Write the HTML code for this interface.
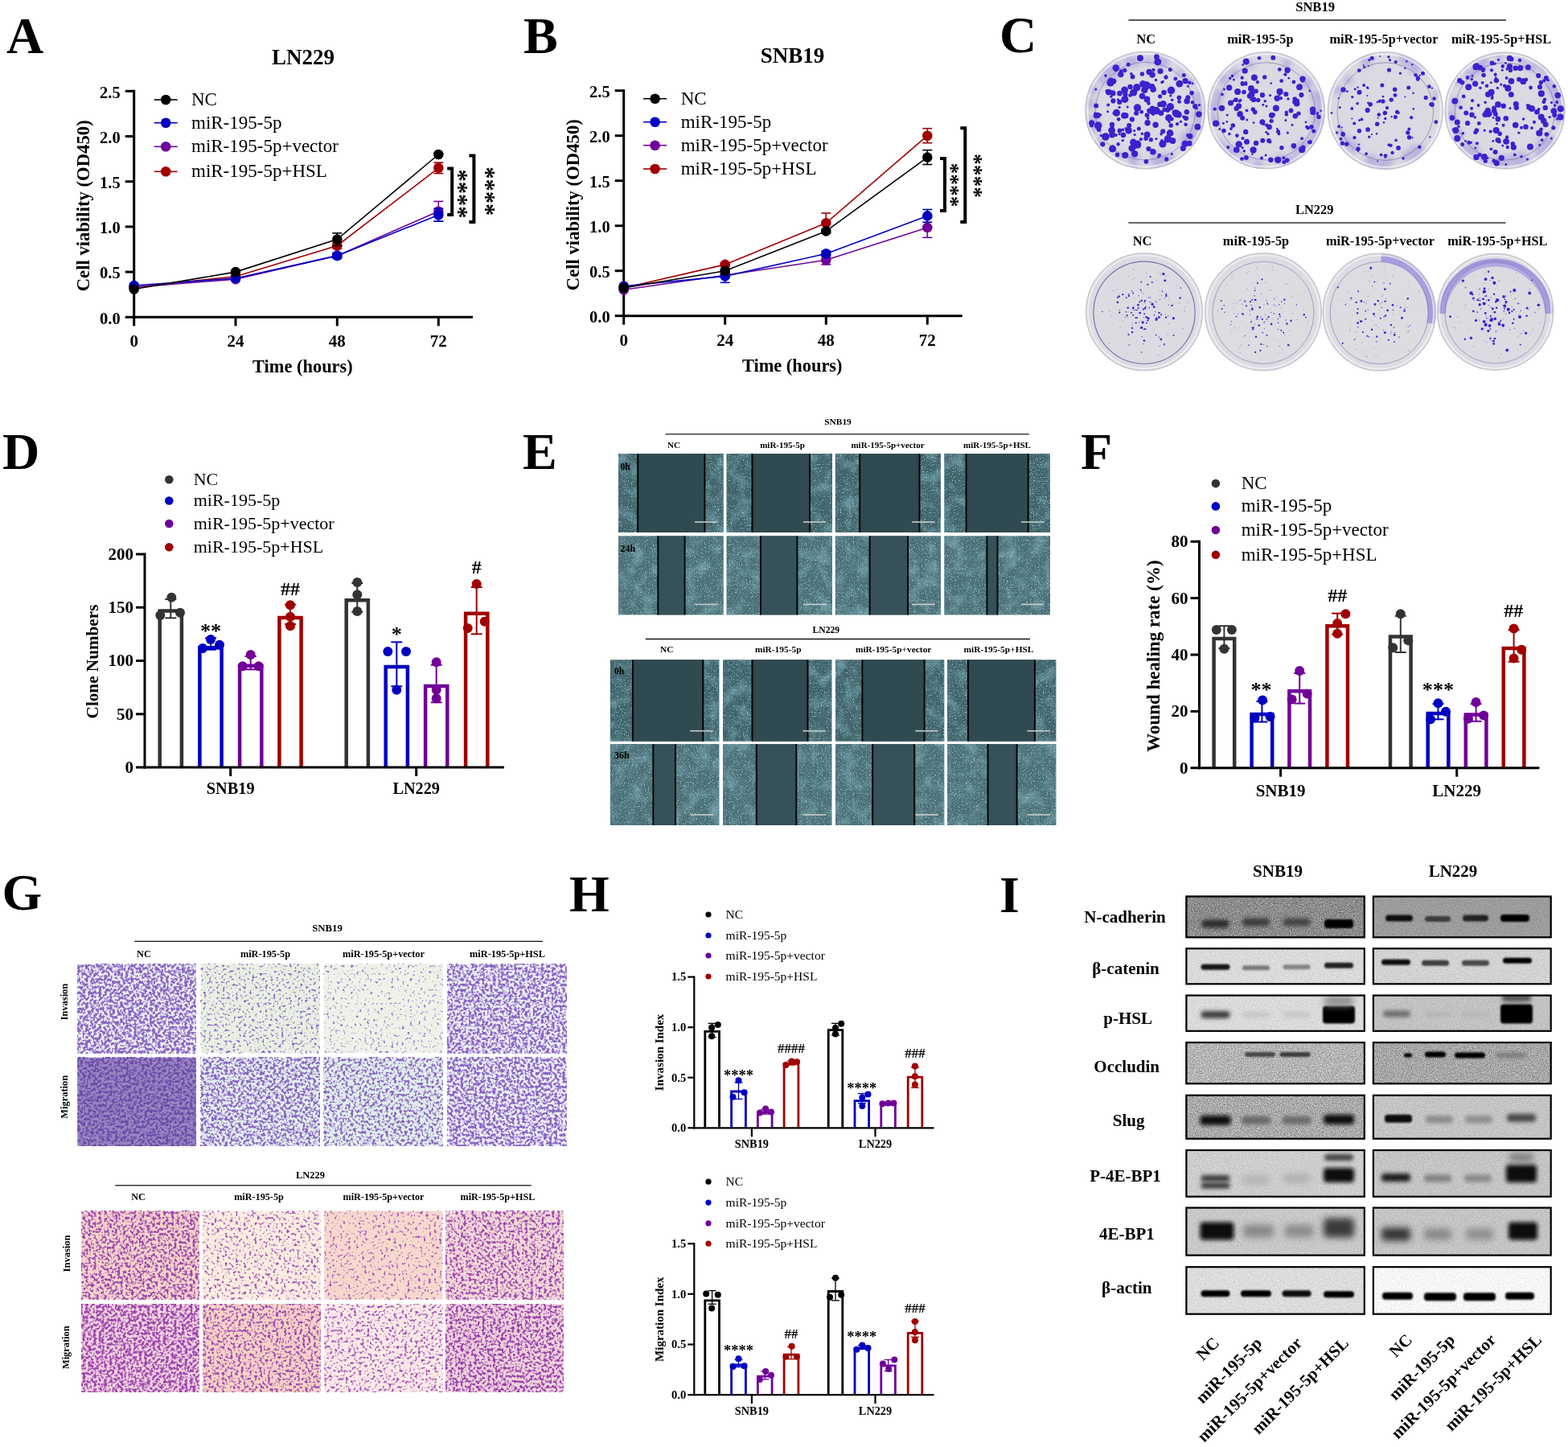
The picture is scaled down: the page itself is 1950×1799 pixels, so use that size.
<!DOCTYPE html>
<html><head><meta charset="utf-8"><title>Figure</title>
<style>html,body{margin:0;padding:0;background:#fff;overflow:hidden}svg{display:block}</style>
</head><body>
<svg width="1950" height="1799" viewBox="0 0 1950 1799" font-family="Liberation Serif, serif">
<defs><filter id="fblur1" x="-10%" y="-10%" width="120%" height="120%"><feGaussianBlur stdDeviation="0.5"/></filter>
<filter id="fblur3" x="-20%" y="-20%" width="140%" height="140%"><feGaussianBlur stdDeviation="3"/></filter>
<clipPath id="dc11"><ellipse cx="1424.3" cy="137.1" rx="75" ry="73.3"/></clipPath>
<clipPath id="dc12"><ellipse cx="1574.7" cy="137.3" rx="73.2" ry="73"/></clipPath>
<clipPath id="dc13"><ellipse cx="1722.8" cy="137.6" rx="72" ry="73.3"/></clipPath>
<clipPath id="dc14"><ellipse cx="1871.5" cy="137.5" rx="75" ry="73"/></clipPath>
<clipPath id="dc21"><ellipse cx="1423" cy="387.7" rx="73" ry="73.5"/></clipPath>
<clipPath id="dc22"><ellipse cx="1571" cy="387.7" rx="73" ry="73.5"/></clipPath>
<clipPath id="dc23"><ellipse cx="1715.3" cy="388" rx="70.7" ry="73.5"/></clipPath>
<clipPath id="dc24"><ellipse cx="1859.7" cy="387.7" rx="72.7" ry="73"/></clipPath>
<filter id="fE" x="0" y="0" width="100%" height="100%" color-interpolation-filters="sRGB">
<feTurbulence type="fractalNoise" baseFrequency="0.06" numOctaves="2" seed="5" result="lo"/>
<feColorMatrix in="lo" type="matrix" values="0 0 0 0 0.55  0 0 0 0 0.75  0 0 0 0 0.8  1.3 0 0 0 -0.58" result="los"/>
<feTurbulence type="fractalNoise" baseFrequency="0.75" numOctaves="2" seed="11" result="hi"/>
<feColorMatrix in="hi" type="matrix" values="0 0 0 0 0.66  0 0 0 0 0.84  0 0 0 0 0.86  4.2 0 0 0 -2.45" result="his"/>
<feMerge><feMergeNode in="SourceGraphic"/><feMergeNode in="los"/><feMergeNode in="his"/></feMerge>
</filter>
<filter id="fE2" x="0" y="0" width="100%" height="100%" color-interpolation-filters="sRGB">
<feTurbulence type="fractalNoise" baseFrequency="0.06" numOctaves="2" seed="9" result="lo"/>
<feColorMatrix in="lo" type="matrix" values="0 0 0 0 0.55  0 0 0 0 0.75  0 0 0 0 0.8  1.3 0 0 0 -0.58" result="los"/>
<feTurbulence type="fractalNoise" baseFrequency="0.8" numOctaves="2" seed="13" result="hi"/>
<feColorMatrix in="hi" type="matrix" values="0 0 0 0 0.66  0 0 0 0 0.84  0 0 0 0 0.86  4 0 0 0 -2.25" result="his"/>
<feMerge><feMergeNode in="SourceGraphic"/><feMergeNode in="los"/><feMergeNode in="his"/></feMerge>
</filter>
<filter id="fG1" x="0" y="0" width="100%" height="100%" color-interpolation-filters="sRGB"><feTurbulence type="fractalNoise" baseFrequency="0.3" numOctaves="2" seed="10" result="n"/><feColorMatrix in="n" type="matrix" values="0 0 0 0 0.533 0 0 0 0 0.392 0 0 0 0 0.769 6 0 0 0 -2.5" result="s"/><feComposite in="s" in2="SourceGraphic" operator="over"/></filter>
<filter id="fG2" x="0" y="0" width="100%" height="100%" color-interpolation-filters="sRGB"><feTurbulence type="fractalNoise" baseFrequency="0.3" numOctaves="2" seed="20" result="n"/><feColorMatrix in="n" type="matrix" values="0 0 0 0 0.424 0 0 0 0 0.298 0 0 0 0 0.659 6 0 0 0 -2.6" result="s"/><feComposite in="s" in2="SourceGraphic" operator="over"/></filter>
<filter id="fG3" x="0" y="0" width="100%" height="100%" color-interpolation-filters="sRGB"><feTurbulence type="fractalNoise" baseFrequency="0.3" numOctaves="2" seed="11" result="n"/><feColorMatrix in="n" type="matrix" values="0 0 0 0 0.541 0 0 0 0 0.400 0 0 0 0 0.784 6 0 0 0 -3.4" result="s"/><feComposite in="s" in2="SourceGraphic" operator="over"/></filter>
<filter id="fG4" x="0" y="0" width="100%" height="100%" color-interpolation-filters="sRGB"><feTurbulence type="fractalNoise" baseFrequency="0.3" numOctaves="2" seed="21" result="n"/><feColorMatrix in="n" type="matrix" values="0 0 0 0 0.533 0 0 0 0 0.392 0 0 0 0 0.769 6 0 0 0 -2.7" result="s"/><feComposite in="s" in2="SourceGraphic" operator="over"/></filter>
<filter id="fG5" x="0" y="0" width="100%" height="100%" color-interpolation-filters="sRGB"><feTurbulence type="fractalNoise" baseFrequency="0.3" numOctaves="2" seed="12" result="n"/><feColorMatrix in="n" type="matrix" values="0 0 0 0 0.549 0 0 0 0 0.416 0 0 0 0 0.784 6 0 0 0 -3.7" result="s"/><feComposite in="s" in2="SourceGraphic" operator="over"/></filter>
<filter id="fG6" x="0" y="0" width="100%" height="100%" color-interpolation-filters="sRGB"><feTurbulence type="fractalNoise" baseFrequency="0.3" numOctaves="2" seed="22" result="n"/><feColorMatrix in="n" type="matrix" values="0 0 0 0 0.533 0 0 0 0 0.392 0 0 0 0 0.769 6 0 0 0 -2.9" result="s"/><feComposite in="s" in2="SourceGraphic" operator="over"/></filter>
<filter id="fG7" x="0" y="0" width="100%" height="100%" color-interpolation-filters="sRGB"><feTurbulence type="fractalNoise" baseFrequency="0.3" numOctaves="2" seed="13" result="n"/><feColorMatrix in="n" type="matrix" values="0 0 0 0 0.533 0 0 0 0 0.392 0 0 0 0 0.769 6 0 0 0 -2.6" result="s"/><feComposite in="s" in2="SourceGraphic" operator="over"/></filter>
<filter id="fG8" x="0" y="0" width="100%" height="100%" color-interpolation-filters="sRGB"><feTurbulence type="fractalNoise" baseFrequency="0.3" numOctaves="2" seed="23" result="n"/><feColorMatrix in="n" type="matrix" values="0 0 0 0 0.533 0 0 0 0 0.392 0 0 0 0 0.769 6 0 0 0 -2.6" result="s"/><feComposite in="s" in2="SourceGraphic" operator="over"/></filter>
<filter id="fG9" x="0" y="0" width="100%" height="100%" color-interpolation-filters="sRGB"><feTurbulence type="fractalNoise" baseFrequency="0.3" numOctaves="2" seed="30" result="n"/><feColorMatrix in="n" type="matrix" values="0 0 0 0 0.627 0 0 0 0 0.267 0 0 0 0 0.706 6 0 0 0 -2.8" result="s"/><feComposite in="s" in2="SourceGraphic" operator="over"/></filter>
<filter id="fG10" x="0" y="0" width="100%" height="100%" color-interpolation-filters="sRGB"><feTurbulence type="fractalNoise" baseFrequency="0.3" numOctaves="2" seed="40" result="n"/><feColorMatrix in="n" type="matrix" values="0 0 0 0 0.627 0 0 0 0 0.267 0 0 0 0 0.706 6 0 0 0 -2.6" result="s"/><feComposite in="s" in2="SourceGraphic" operator="over"/></filter>
<filter id="fG11" x="0" y="0" width="100%" height="100%" color-interpolation-filters="sRGB"><feTurbulence type="fractalNoise" baseFrequency="0.3" numOctaves="2" seed="31" result="n"/><feColorMatrix in="n" type="matrix" values="0 0 0 0 0.659 0 0 0 0 0.298 0 0 0 0 0.737 6 0 0 0 -3.3" result="s"/><feComposite in="s" in2="SourceGraphic" operator="over"/></filter>
<filter id="fG12" x="0" y="0" width="100%" height="100%" color-interpolation-filters="sRGB"><feTurbulence type="fractalNoise" baseFrequency="0.3" numOctaves="2" seed="41" result="n"/><feColorMatrix in="n" type="matrix" values="0 0 0 0 0.643 0 0 0 0 0.282 0 0 0 0 0.722 6 0 0 0 -3" result="s"/><feComposite in="s" in2="SourceGraphic" operator="over"/></filter>
<filter id="fG13" x="0" y="0" width="100%" height="100%" color-interpolation-filters="sRGB"><feTurbulence type="fractalNoise" baseFrequency="0.3" numOctaves="2" seed="32" result="n"/><feColorMatrix in="n" type="matrix" values="0 0 0 0 0.659 0 0 0 0 0.298 0 0 0 0 0.737 6 0 0 0 -3.5" result="s"/><feComposite in="s" in2="SourceGraphic" operator="over"/></filter>
<filter id="fG14" x="0" y="0" width="100%" height="100%" color-interpolation-filters="sRGB"><feTurbulence type="fractalNoise" baseFrequency="0.3" numOctaves="2" seed="42" result="n"/><feColorMatrix in="n" type="matrix" values="0 0 0 0 0.659 0 0 0 0 0.298 0 0 0 0 0.737 6 0 0 0 -3.2" result="s"/><feComposite in="s" in2="SourceGraphic" operator="over"/></filter>
<filter id="fG15" x="0" y="0" width="100%" height="100%" color-interpolation-filters="sRGB"><feTurbulence type="fractalNoise" baseFrequency="0.3" numOctaves="2" seed="33" result="n"/><feColorMatrix in="n" type="matrix" values="0 0 0 0 0.627 0 0 0 0 0.267 0 0 0 0 0.706 6 0 0 0 -2.9" result="s"/><feComposite in="s" in2="SourceGraphic" operator="over"/></filter>
<filter id="fG16" x="0" y="0" width="100%" height="100%" color-interpolation-filters="sRGB"><feTurbulence type="fractalNoise" baseFrequency="0.3" numOctaves="2" seed="43" result="n"/><feColorMatrix in="n" type="matrix" values="0 0 0 0 0.612 0 0 0 0 0.251 0 0 0 0 0.690 6 0 0 0 -2.8" result="s"/><feComposite in="s" in2="SourceGraphic" operator="over"/></filter>
<filter id="grHi" x="0" y="0" width="100%" height="100%" color-interpolation-filters="sRGB">
<feTurbulence type="fractalNoise" baseFrequency="0.9" numOctaves="2" seed="4" result="n"/>
<feColorMatrix in="n" type="matrix" values="1 0 0 0 0  1 0 0 0 0  1 0 0 0 0  0 0 0 0 1" result="g"/>
<feComposite in="g" in2="SourceGraphic" operator="arithmetic" k1="0" k2="0.7" k3="1" k4="-0.35"/>
</filter>
<filter id="grLo" x="0" y="0" width="100%" height="100%" color-interpolation-filters="sRGB">
<feTurbulence type="fractalNoise" baseFrequency="0.7" numOctaves="2" seed="8" result="n"/>
<feColorMatrix in="n" type="matrix" values="1 0 0 0 0  1 0 0 0 0  1 0 0 0 0  0 0 0 0 1" result="g"/>
<feComposite in="g" in2="SourceGraphic" operator="arithmetic" k1="0" k2="0.25" k3="1" k4="-0.125"/>
</filter>
<filter id="bb1" x="-50%" y="-100%" width="200%" height="300%"><feGaussianBlur stdDeviation="1.3"/></filter>
<filter id="bb2" x="-50%" y="-100%" width="200%" height="300%"><feGaussianBlur stdDeviation="2.6"/></filter>
<filter id="bb3" x="-50%" y="-100%" width="200%" height="300%"><feGaussianBlur stdDeviation="4"/></filter>
<clipPath id="bc00"><rect x="1474.4" y="1113.6" width="223.4" height="52.7"/></clipPath>
<clipPath id="bc10"><rect x="1706.9" y="1113.6" width="222.8" height="52.7"/></clipPath>
<clipPath id="bc01"><rect x="1474.4" y="1178.3" width="223.4" height="46"/></clipPath>
<clipPath id="bc11"><rect x="1706.9" y="1178.3" width="222.8" height="46"/></clipPath>
<clipPath id="bc02"><rect x="1474.4" y="1236.6" width="223.4" height="46.2"/></clipPath>
<clipPath id="bc12"><rect x="1706.9" y="1236.6" width="222.8" height="46.2"/></clipPath>
<clipPath id="bc03"><rect x="1474.4" y="1295.1" width="223.4" height="53.1"/></clipPath>
<clipPath id="bc13"><rect x="1706.9" y="1295.1" width="222.8" height="53.1"/></clipPath>
<clipPath id="bc04"><rect x="1474.4" y="1360.8" width="223.4" height="55.9"/></clipPath>
<clipPath id="bc14"><rect x="1706.9" y="1360.8" width="222.8" height="55.9"/></clipPath>
<clipPath id="bc05"><rect x="1474.4" y="1429" width="223.4" height="59.7"/></clipPath>
<clipPath id="bc15"><rect x="1706.9" y="1429" width="222.8" height="59.7"/></clipPath>
<clipPath id="bc06"><rect x="1474.4" y="1500.6" width="223.4" height="61"/></clipPath>
<clipPath id="bc16"><rect x="1706.9" y="1500.6" width="222.8" height="61"/></clipPath>
<clipPath id="bc07"><rect x="1474.4" y="1574.2" width="223.4" height="60.5"/></clipPath>
<clipPath id="bc17"><rect x="1706.9" y="1574.2" width="222.8" height="60.5"/></clipPath></defs>
<rect width="1950" height="1799" fill="#fff"/>
<text x="8" y="66" font-size="64" font-weight="bold">A</text>
<text x="651" y="66" font-size="64" font-weight="bold">B</text>
<text x="1243" y="65" font-size="64" font-weight="bold">C</text>
<text x="3" y="583" font-size="64" font-weight="bold">D</text>
<text x="650" y="583" font-size="64" font-weight="bold">E</text>
<text x="1344" y="583" font-size="64" font-weight="bold">F</text>
<text x="2.5" y="1130.5" font-size="64" font-weight="bold">G</text>
<text x="708" y="1133" font-size="64" font-weight="bold">H</text>
<text x="1243" y="1134" font-size="64" font-weight="bold">I</text>
<line x1="166.7" y1="111.8" x2="166.7" y2="395.8" stroke="#000" stroke-width="3"/>
<line x1="165.2" y1="394.3" x2="588" y2="394.3" stroke="#000" stroke-width="3"/>
<line x1="155.7" y1="394.3" x2="166.7" y2="394.3" stroke="#000" stroke-width="3"/>
<text x="149.7" y="402.6" font-size="20.5" font-weight="bold" text-anchor="end">0.0</text>
<line x1="155.7" y1="338.1" x2="166.7" y2="338.1" stroke="#000" stroke-width="3"/>
<text x="149.7" y="346.4" font-size="20.5" font-weight="bold" text-anchor="end">0.5</text>
<line x1="155.7" y1="281.9" x2="166.7" y2="281.9" stroke="#000" stroke-width="3"/>
<text x="149.7" y="290.2" font-size="20.5" font-weight="bold" text-anchor="end">1.0</text>
<line x1="155.7" y1="225.7" x2="166.7" y2="225.7" stroke="#000" stroke-width="3"/>
<text x="149.7" y="234" font-size="20.5" font-weight="bold" text-anchor="end">1.5</text>
<line x1="155.7" y1="169.5" x2="166.7" y2="169.5" stroke="#000" stroke-width="3"/>
<text x="149.7" y="177.8" font-size="20.5" font-weight="bold" text-anchor="end">2.0</text>
<line x1="155.7" y1="113.3" x2="166.7" y2="113.3" stroke="#000" stroke-width="3"/>
<text x="149.7" y="121.6" font-size="20.5" font-weight="bold" text-anchor="end">2.5</text>
<line x1="166.7" y1="394.3" x2="166.7" y2="405.3" stroke="#000" stroke-width="3"/>
<text x="166.7" y="431.3" font-size="21" font-weight="bold" text-anchor="middle">0</text>
<line x1="293" y1="394.3" x2="293" y2="405.3" stroke="#000" stroke-width="3"/>
<text x="293" y="431.3" font-size="21" font-weight="bold" text-anchor="middle">24</text>
<line x1="419.3" y1="394.3" x2="419.3" y2="405.3" stroke="#000" stroke-width="3"/>
<text x="419.3" y="431.3" font-size="21" font-weight="bold" text-anchor="middle">48</text>
<line x1="545.3" y1="394.3" x2="545.3" y2="405.3" stroke="#000" stroke-width="3"/>
<text x="545.3" y="431.3" font-size="21" font-weight="bold" text-anchor="middle">72</text>
<text x="376.4" y="463.3" font-size="22.4" font-weight="bold" text-anchor="middle">Time (hours)</text>
<text x="110.7" y="255.8" font-size="22.7" font-weight="bold" text-anchor="middle" transform="rotate(-90 110.7 255.8)">Cell viability (OD450)</text>
<text x="377" y="80" font-size="27" font-weight="bold" text-anchor="middle">LN229</text>
<polyline points="166.7,357.2 293,343.7 419.3,305.5 545.3,208.8" fill="none" stroke="#a00000" stroke-width="1.6"/>
<polyline points="166.7,357.2 293,347.1 419.3,317.9 545.3,262.8" fill="none" stroke="#700099" stroke-width="1.6"/>
<polyline points="166.7,355 293,346 419.3,317.9 545.3,267.3" fill="none" stroke="#0000c0" stroke-width="1.6"/>
<polyline points="166.7,359.5 293,338.1 419.3,297.6 545.3,192" fill="none" stroke="#000" stroke-width="1.6"/>
<circle cx="166.7" cy="357.2" r="6.3" fill="#a00000"/>
<line x1="293" y1="346" x2="293" y2="341.5" stroke="#a00000" stroke-width="1.6"/>
<line x1="287" y1="341.5" x2="299" y2="341.5" stroke="#a00000" stroke-width="1.6"/>
<line x1="287" y1="346" x2="299" y2="346" stroke="#a00000" stroke-width="1.6"/>
<circle cx="293" cy="343.7" r="6.3" fill="#a00000"/>
<line x1="419.3" y1="308.9" x2="419.3" y2="302.1" stroke="#a00000" stroke-width="1.6"/>
<line x1="413.3" y1="302.1" x2="425.3" y2="302.1" stroke="#a00000" stroke-width="1.6"/>
<line x1="413.3" y1="308.9" x2="425.3" y2="308.9" stroke="#a00000" stroke-width="1.6"/>
<circle cx="419.3" cy="305.5" r="6.3" fill="#a00000"/>
<line x1="545.3" y1="215.6" x2="545.3" y2="202.1" stroke="#a00000" stroke-width="1.6"/>
<line x1="539.3" y1="202.1" x2="551.3" y2="202.1" stroke="#a00000" stroke-width="1.6"/>
<line x1="539.3" y1="215.6" x2="551.3" y2="215.6" stroke="#a00000" stroke-width="1.6"/>
<circle cx="545.3" cy="208.8" r="6.3" fill="#a00000"/>
<circle cx="166.7" cy="357.2" r="6.3" fill="#700099"/>
<line x1="293" y1="349.3" x2="293" y2="344.8" stroke="#700099" stroke-width="1.6"/>
<line x1="287" y1="344.8" x2="299" y2="344.8" stroke="#700099" stroke-width="1.6"/>
<line x1="287" y1="349.3" x2="299" y2="349.3" stroke="#700099" stroke-width="1.6"/>
<circle cx="293" cy="347.1" r="6.3" fill="#700099"/>
<line x1="419.3" y1="320.1" x2="419.3" y2="315.6" stroke="#700099" stroke-width="1.6"/>
<line x1="413.3" y1="315.6" x2="425.3" y2="315.6" stroke="#700099" stroke-width="1.6"/>
<line x1="413.3" y1="320.1" x2="425.3" y2="320.1" stroke="#700099" stroke-width="1.6"/>
<circle cx="419.3" cy="317.9" r="6.3" fill="#700099"/>
<line x1="545.3" y1="275.2" x2="545.3" y2="250.4" stroke="#700099" stroke-width="1.6"/>
<line x1="539.3" y1="250.4" x2="551.3" y2="250.4" stroke="#700099" stroke-width="1.6"/>
<line x1="539.3" y1="275.2" x2="551.3" y2="275.2" stroke="#700099" stroke-width="1.6"/>
<circle cx="545.3" cy="262.8" r="6.3" fill="#700099"/>
<circle cx="166.7" cy="355" r="6.3" fill="#0000c0"/>
<line x1="293" y1="348.2" x2="293" y2="343.7" stroke="#0000c0" stroke-width="1.6"/>
<line x1="287" y1="343.7" x2="299" y2="343.7" stroke="#0000c0" stroke-width="1.6"/>
<line x1="287" y1="348.2" x2="299" y2="348.2" stroke="#0000c0" stroke-width="1.6"/>
<circle cx="293" cy="346" r="6.3" fill="#0000c0"/>
<line x1="419.3" y1="321.2" x2="419.3" y2="314.5" stroke="#0000c0" stroke-width="1.6"/>
<line x1="413.3" y1="314.5" x2="425.3" y2="314.5" stroke="#0000c0" stroke-width="1.6"/>
<line x1="413.3" y1="321.2" x2="425.3" y2="321.2" stroke="#0000c0" stroke-width="1.6"/>
<circle cx="419.3" cy="317.9" r="6.3" fill="#0000c0"/>
<line x1="545.3" y1="275.2" x2="545.3" y2="259.4" stroke="#0000c0" stroke-width="1.6"/>
<line x1="539.3" y1="259.4" x2="551.3" y2="259.4" stroke="#0000c0" stroke-width="1.6"/>
<line x1="539.3" y1="275.2" x2="551.3" y2="275.2" stroke="#0000c0" stroke-width="1.6"/>
<circle cx="545.3" cy="267.3" r="6.3" fill="#0000c0"/>
<circle cx="166.7" cy="359.5" r="6.3" fill="#000"/>
<line x1="293" y1="340.3" x2="293" y2="335.9" stroke="#000" stroke-width="1.6"/>
<line x1="287" y1="335.9" x2="299" y2="335.9" stroke="#000" stroke-width="1.6"/>
<line x1="287" y1="340.3" x2="299" y2="340.3" stroke="#000" stroke-width="1.6"/>
<circle cx="293" cy="338.1" r="6.3" fill="#000"/>
<line x1="419.3" y1="305.5" x2="419.3" y2="289.8" stroke="#000" stroke-width="1.6"/>
<line x1="413.3" y1="289.8" x2="425.3" y2="289.8" stroke="#000" stroke-width="1.6"/>
<line x1="413.3" y1="305.5" x2="425.3" y2="305.5" stroke="#000" stroke-width="1.6"/>
<circle cx="419.3" cy="297.6" r="6.3" fill="#000"/>
<circle cx="545.3" cy="192" r="6.3" fill="#000"/>
<line x1="191.7" y1="124" x2="220.7" y2="124" stroke="#000" stroke-width="1.6"/>
<circle cx="206.2" cy="124" r="6.3" fill="#000"/>
<text x="238" y="131" font-size="23">NC</text>
<line x1="191.7" y1="152.7" x2="220.7" y2="152.7" stroke="#0000c0" stroke-width="1.6"/>
<circle cx="206.2" cy="152.7" r="6.3" fill="#0000c0"/>
<text x="238" y="159.7" font-size="23">miR-195-5p</text>
<line x1="191.7" y1="182.3" x2="220.7" y2="182.3" stroke="#700099" stroke-width="1.6"/>
<circle cx="206.2" cy="182.3" r="6.3" fill="#700099"/>
<text x="238" y="189.3" font-size="23">miR-195-5p+vector</text>
<line x1="191.7" y1="213.3" x2="220.7" y2="213.3" stroke="#a00000" stroke-width="1.6"/>
<circle cx="206.2" cy="213.3" r="6.3" fill="#a00000"/>
<text x="238" y="220.3" font-size="23">miR-195-5p+HSL</text>
<path d="M556.2 209.4H562.2V266.9H556.2" fill="none" stroke="#000" stroke-width="4"/>
<text x="569.6" y="240.9" font-size="30.5" font-weight="bold" text-anchor="middle" transform="rotate(90 569.6 240.9)" dominant-baseline="central">****</text>
<path d="M583.4 193.5H589.4V276H583.4" fill="none" stroke="#000" stroke-width="4"/>
<text x="603.9" y="237.8" font-size="30.5" font-weight="bold" text-anchor="middle" transform="rotate(90 603.9 237.8)" dominant-baseline="central">****</text>
<line x1="775.7" y1="111.2" x2="775.7" y2="394.2" stroke="#000" stroke-width="3"/>
<line x1="774.2" y1="392.7" x2="1196.7" y2="392.7" stroke="#000" stroke-width="3"/>
<line x1="764.7" y1="392.7" x2="775.7" y2="392.7" stroke="#000" stroke-width="3"/>
<text x="758.7" y="401" font-size="20.5" font-weight="bold" text-anchor="end">0.0</text>
<line x1="764.7" y1="336.7" x2="775.7" y2="336.7" stroke="#000" stroke-width="3"/>
<text x="758.7" y="345" font-size="20.5" font-weight="bold" text-anchor="end">0.5</text>
<line x1="764.7" y1="280.7" x2="775.7" y2="280.7" stroke="#000" stroke-width="3"/>
<text x="758.7" y="289" font-size="20.5" font-weight="bold" text-anchor="end">1.0</text>
<line x1="764.7" y1="224.7" x2="775.7" y2="224.7" stroke="#000" stroke-width="3"/>
<text x="758.7" y="233" font-size="20.5" font-weight="bold" text-anchor="end">1.5</text>
<line x1="764.7" y1="168.7" x2="775.7" y2="168.7" stroke="#000" stroke-width="3"/>
<text x="758.7" y="177" font-size="20.5" font-weight="bold" text-anchor="end">2.0</text>
<line x1="764.7" y1="112.7" x2="775.7" y2="112.7" stroke="#000" stroke-width="3"/>
<text x="758.7" y="121" font-size="20.5" font-weight="bold" text-anchor="end">2.5</text>
<line x1="775.7" y1="392.7" x2="775.7" y2="403.7" stroke="#000" stroke-width="3"/>
<text x="775.7" y="429.7" font-size="21" font-weight="bold" text-anchor="middle">0</text>
<line x1="901.7" y1="392.7" x2="901.7" y2="403.7" stroke="#000" stroke-width="3"/>
<text x="901.7" y="429.7" font-size="21" font-weight="bold" text-anchor="middle">24</text>
<line x1="1027.3" y1="392.7" x2="1027.3" y2="403.7" stroke="#000" stroke-width="3"/>
<text x="1027.3" y="429.7" font-size="21" font-weight="bold" text-anchor="middle">48</text>
<line x1="1153.3" y1="392.7" x2="1153.3" y2="403.7" stroke="#000" stroke-width="3"/>
<text x="1153.3" y="429.7" font-size="21" font-weight="bold" text-anchor="middle">72</text>
<text x="985.2" y="461.7" font-size="22.4" font-weight="bold" text-anchor="middle">Time (hours)</text>
<text x="719.7" y="254.7" font-size="22.7" font-weight="bold" text-anchor="middle" transform="rotate(-90 719.7 254.7)">Cell viability (OD450)</text>
<text x="985.5" y="78.3" font-size="27" font-weight="bold" text-anchor="middle">SNB19</text>
<polyline points="775.7,358 901.7,328.9 1027.3,277.3 1153.3,168.7" fill="none" stroke="#a00000" stroke-width="1.6"/>
<polyline points="775.7,360.2 901.7,342.3 1027.3,323.3 1153.3,282.9" fill="none" stroke="#700099" stroke-width="1.6"/>
<polyline points="775.7,355.7 901.7,343.4 1027.3,315.4 1153.3,268.4" fill="none" stroke="#0000c0" stroke-width="1.6"/>
<polyline points="775.7,358 901.7,336.7 1027.3,287.4 1153.3,195.6" fill="none" stroke="#000" stroke-width="1.6"/>
<circle cx="775.7" cy="358" r="6.3" fill="#a00000"/>
<line x1="901.7" y1="331.1" x2="901.7" y2="326.6" stroke="#a00000" stroke-width="1.6"/>
<line x1="895.7" y1="326.6" x2="907.7" y2="326.6" stroke="#a00000" stroke-width="1.6"/>
<line x1="895.7" y1="331.1" x2="907.7" y2="331.1" stroke="#a00000" stroke-width="1.6"/>
<circle cx="901.7" cy="328.9" r="6.3" fill="#a00000"/>
<line x1="1027.3" y1="289.7" x2="1027.3" y2="265" stroke="#a00000" stroke-width="1.6"/>
<line x1="1021.3" y1="265" x2="1033.3" y2="265" stroke="#a00000" stroke-width="1.6"/>
<line x1="1021.3" y1="289.7" x2="1033.3" y2="289.7" stroke="#a00000" stroke-width="1.6"/>
<circle cx="1027.3" cy="277.3" r="6.3" fill="#a00000"/>
<line x1="1153.3" y1="177.7" x2="1153.3" y2="159.7" stroke="#a00000" stroke-width="1.6"/>
<line x1="1147.3" y1="159.7" x2="1159.3" y2="159.7" stroke="#a00000" stroke-width="1.6"/>
<line x1="1147.3" y1="177.7" x2="1159.3" y2="177.7" stroke="#a00000" stroke-width="1.6"/>
<circle cx="1153.3" cy="168.7" r="6.3" fill="#a00000"/>
<circle cx="775.7" cy="360.2" r="6.3" fill="#700099"/>
<line x1="901.7" y1="344.5" x2="901.7" y2="340.1" stroke="#700099" stroke-width="1.6"/>
<line x1="895.7" y1="340.1" x2="907.7" y2="340.1" stroke="#700099" stroke-width="1.6"/>
<line x1="895.7" y1="344.5" x2="907.7" y2="344.5" stroke="#700099" stroke-width="1.6"/>
<circle cx="901.7" cy="342.3" r="6.3" fill="#700099"/>
<line x1="1027.3" y1="328.9" x2="1027.3" y2="317.7" stroke="#700099" stroke-width="1.6"/>
<line x1="1021.3" y1="317.7" x2="1033.3" y2="317.7" stroke="#700099" stroke-width="1.6"/>
<line x1="1021.3" y1="328.9" x2="1033.3" y2="328.9" stroke="#700099" stroke-width="1.6"/>
<circle cx="1027.3" cy="323.3" r="6.3" fill="#700099"/>
<line x1="1153.3" y1="295.3" x2="1153.3" y2="270.6" stroke="#700099" stroke-width="1.6"/>
<line x1="1147.3" y1="270.6" x2="1159.3" y2="270.6" stroke="#700099" stroke-width="1.6"/>
<line x1="1147.3" y1="295.3" x2="1159.3" y2="295.3" stroke="#700099" stroke-width="1.6"/>
<circle cx="1153.3" cy="282.9" r="6.3" fill="#700099"/>
<circle cx="775.7" cy="355.7" r="6.3" fill="#0000c0"/>
<line x1="901.7" y1="351.3" x2="901.7" y2="335.6" stroke="#0000c0" stroke-width="1.6"/>
<line x1="895.7" y1="335.6" x2="907.7" y2="335.6" stroke="#0000c0" stroke-width="1.6"/>
<line x1="895.7" y1="351.3" x2="907.7" y2="351.3" stroke="#0000c0" stroke-width="1.6"/>
<circle cx="901.7" cy="343.4" r="6.3" fill="#0000c0"/>
<line x1="1027.3" y1="318.8" x2="1027.3" y2="312.1" stroke="#0000c0" stroke-width="1.6"/>
<line x1="1021.3" y1="312.1" x2="1033.3" y2="312.1" stroke="#0000c0" stroke-width="1.6"/>
<line x1="1021.3" y1="318.8" x2="1033.3" y2="318.8" stroke="#0000c0" stroke-width="1.6"/>
<circle cx="1027.3" cy="315.4" r="6.3" fill="#0000c0"/>
<line x1="1153.3" y1="276.2" x2="1153.3" y2="260.5" stroke="#0000c0" stroke-width="1.6"/>
<line x1="1147.3" y1="260.5" x2="1159.3" y2="260.5" stroke="#0000c0" stroke-width="1.6"/>
<line x1="1147.3" y1="276.2" x2="1159.3" y2="276.2" stroke="#0000c0" stroke-width="1.6"/>
<circle cx="1153.3" cy="268.4" r="6.3" fill="#0000c0"/>
<circle cx="775.7" cy="358" r="6.3" fill="#000"/>
<line x1="901.7" y1="338.9" x2="901.7" y2="334.5" stroke="#000" stroke-width="1.6"/>
<line x1="895.7" y1="334.5" x2="907.7" y2="334.5" stroke="#000" stroke-width="1.6"/>
<line x1="895.7" y1="338.9" x2="907.7" y2="338.9" stroke="#000" stroke-width="1.6"/>
<circle cx="901.7" cy="336.7" r="6.3" fill="#000"/>
<line x1="1027.3" y1="289.7" x2="1027.3" y2="285.2" stroke="#000" stroke-width="1.6"/>
<line x1="1021.3" y1="285.2" x2="1033.3" y2="285.2" stroke="#000" stroke-width="1.6"/>
<line x1="1021.3" y1="289.7" x2="1033.3" y2="289.7" stroke="#000" stroke-width="1.6"/>
<circle cx="1027.3" cy="287.4" r="6.3" fill="#000"/>
<line x1="1153.3" y1="204.5" x2="1153.3" y2="186.6" stroke="#000" stroke-width="1.6"/>
<line x1="1147.3" y1="186.6" x2="1159.3" y2="186.6" stroke="#000" stroke-width="1.6"/>
<line x1="1147.3" y1="204.5" x2="1159.3" y2="204.5" stroke="#000" stroke-width="1.6"/>
<circle cx="1153.3" cy="195.6" r="6.3" fill="#000"/>
<line x1="800" y1="122.7" x2="829.3" y2="122.7" stroke="#000" stroke-width="1.6"/>
<circle cx="814.6" cy="122.7" r="6.3" fill="#000"/>
<text x="846.7" y="129.7" font-size="23">NC</text>
<line x1="800" y1="151.7" x2="829.3" y2="151.7" stroke="#0000c0" stroke-width="1.6"/>
<circle cx="814.6" cy="151.7" r="6.3" fill="#0000c0"/>
<text x="846.7" y="158.7" font-size="23">miR-195-5p</text>
<line x1="800" y1="180.7" x2="829.3" y2="180.7" stroke="#700099" stroke-width="1.6"/>
<circle cx="814.6" cy="180.7" r="6.3" fill="#700099"/>
<text x="846.7" y="187.7" font-size="23">miR-195-5p+vector</text>
<line x1="800" y1="210" x2="829.3" y2="210" stroke="#a00000" stroke-width="1.6"/>
<circle cx="814.6" cy="210" r="6.3" fill="#a00000"/>
<text x="846.7" y="217" font-size="23">miR-195-5p+HSL</text>
<path d="M1169 197.1H1175V262H1169" fill="none" stroke="#000" stroke-width="4"/>
<text x="1183.6" y="230" font-size="27.5" font-weight="bold" text-anchor="middle" transform="rotate(90 1183.6 230)" dominant-baseline="central">****</text>
<path d="M1194.3 159.3H1200.3V276.1H1194.3" fill="none" stroke="#000" stroke-width="4"/>
<text x="1212" y="218.5" font-size="27.5" font-weight="bold" text-anchor="middle" transform="rotate(90 1212 218.5)" dominant-baseline="central">****</text>
<path d="M198.7 954V759.5H225.9V954" fill="none" stroke="#333333" stroke-width="4.5"/>
<line x1="212.3" y1="768.3" x2="212.3" y2="745" stroke="#333333" stroke-width="2"/>
<line x1="205.3" y1="745" x2="219.3" y2="745" stroke="#333333" stroke-width="2"/>
<line x1="205.3" y1="768.3" x2="219.3" y2="768.3" stroke="#333333" stroke-width="2"/>
<circle cx="199.3" cy="765" r="6" fill="#333333"/>
<circle cx="213.3" cy="742.7" r="6" fill="#333333"/>
<circle cx="224" cy="761.7" r="6" fill="#333333"/>
<path d="M248.4 954V805.2H275.6V954" fill="none" stroke="#0000c0" stroke-width="4.5"/>
<line x1="262" y1="807.7" x2="262" y2="793.3" stroke="#0000c0" stroke-width="2"/>
<line x1="255" y1="793.3" x2="269" y2="793.3" stroke="#0000c0" stroke-width="2"/>
<line x1="255" y1="807.7" x2="269" y2="807.7" stroke="#0000c0" stroke-width="2"/>
<circle cx="252" cy="806" r="6" fill="#0000c0"/>
<circle cx="262" cy="795" r="6" fill="#0000c0"/>
<circle cx="273" cy="801.7" r="6" fill="#0000c0"/>
<path d="M298.1 954V827.7H325.3V954" fill="none" stroke="#700099" stroke-width="4.5"/>
<line x1="311.7" y1="832.3" x2="311.7" y2="816" stroke="#700099" stroke-width="2"/>
<line x1="304.7" y1="816" x2="318.7" y2="816" stroke="#700099" stroke-width="2"/>
<line x1="304.7" y1="832.3" x2="318.7" y2="832.3" stroke="#700099" stroke-width="2"/>
<circle cx="301.7" cy="828.3" r="6" fill="#700099"/>
<circle cx="311.7" cy="814" r="6" fill="#700099"/>
<circle cx="321.7" cy="828.3" r="6" fill="#700099"/>
<path d="M347.4 954V768.1H374.6V954" fill="none" stroke="#a00000" stroke-width="4.5"/>
<line x1="361" y1="776" x2="361" y2="751.7" stroke="#a00000" stroke-width="2"/>
<line x1="354" y1="751.7" x2="368" y2="751.7" stroke="#a00000" stroke-width="2"/>
<line x1="354" y1="776" x2="368" y2="776" stroke="#a00000" stroke-width="2"/>
<circle cx="361" cy="752.3" r="6" fill="#a00000"/>
<circle cx="361" cy="766.7" r="6" fill="#a00000"/>
<circle cx="361" cy="778.3" r="6" fill="#a00000"/>
<path d="M430.7 954V746.2H457.9V954" fill="none" stroke="#333333" stroke-width="4.5"/>
<line x1="444.3" y1="761" x2="444.3" y2="725" stroke="#333333" stroke-width="2"/>
<line x1="437.3" y1="725" x2="451.3" y2="725" stroke="#333333" stroke-width="2"/>
<line x1="437.3" y1="761" x2="451.3" y2="761" stroke="#333333" stroke-width="2"/>
<circle cx="444.3" cy="724" r="6" fill="#333333"/>
<circle cx="444.3" cy="739.3" r="6" fill="#333333"/>
<circle cx="444.3" cy="760" r="6" fill="#333333"/>
<path d="M479.7 954V829H506.9V954" fill="none" stroke="#0000c0" stroke-width="4.5"/>
<line x1="493.3" y1="853.3" x2="493.3" y2="798.3" stroke="#0000c0" stroke-width="2"/>
<line x1="486.3" y1="798.3" x2="500.3" y2="798.3" stroke="#0000c0" stroke-width="2"/>
<line x1="486.3" y1="853.3" x2="500.3" y2="853.3" stroke="#0000c0" stroke-width="2"/>
<circle cx="482.3" cy="810" r="6" fill="#0000c0"/>
<circle cx="505" cy="810" r="6" fill="#0000c0"/>
<circle cx="493.3" cy="857.7" r="6" fill="#0000c0"/>
<path d="M529.1 954V852.9H556.3V954" fill="none" stroke="#700099" stroke-width="4.5"/>
<line x1="542.7" y1="873.3" x2="542.7" y2="826.7" stroke="#700099" stroke-width="2"/>
<line x1="535.7" y1="826.7" x2="549.7" y2="826.7" stroke="#700099" stroke-width="2"/>
<line x1="535.7" y1="873.3" x2="549.7" y2="873.3" stroke="#700099" stroke-width="2"/>
<circle cx="542.7" cy="823.3" r="6" fill="#700099"/>
<circle cx="542.7" cy="857.7" r="6" fill="#700099"/>
<circle cx="542.7" cy="868.3" r="6" fill="#700099"/>
<path d="M579.1 954V762.8H606.3V954" fill="none" stroke="#a00000" stroke-width="4.5"/>
<line x1="592.7" y1="788.3" x2="592.7" y2="730" stroke="#a00000" stroke-width="2"/>
<line x1="585.7" y1="730" x2="599.7" y2="730" stroke="#a00000" stroke-width="2"/>
<line x1="585.7" y1="788.3" x2="599.7" y2="788.3" stroke="#a00000" stroke-width="2"/>
<circle cx="592.7" cy="726" r="6" fill="#a00000"/>
<circle cx="581.7" cy="781" r="6" fill="#a00000"/>
<circle cx="602.7" cy="772.7" r="6" fill="#a00000"/>
<line x1="180" y1="687.5" x2="180" y2="955.5" stroke="#000" stroke-width="3"/>
<line x1="178.5" y1="954" x2="627" y2="954" stroke="#000" stroke-width="3"/>
<line x1="169" y1="954" x2="180" y2="954" stroke="#000" stroke-width="3"/>
<text x="166" y="960.9" font-size="21" font-weight="bold" text-anchor="end">0</text>
<line x1="169" y1="887.8" x2="180" y2="887.8" stroke="#000" stroke-width="3"/>
<text x="166" y="894.7" font-size="21" font-weight="bold" text-anchor="end">50</text>
<line x1="169" y1="821.5" x2="180" y2="821.5" stroke="#000" stroke-width="3"/>
<text x="166" y="828.4" font-size="21" font-weight="bold" text-anchor="end">100</text>
<line x1="169" y1="755.2" x2="180" y2="755.2" stroke="#000" stroke-width="3"/>
<text x="166" y="762.2" font-size="21" font-weight="bold" text-anchor="end">150</text>
<line x1="169" y1="689" x2="180" y2="689" stroke="#000" stroke-width="3"/>
<text x="166" y="695.9" font-size="21" font-weight="bold" text-anchor="end">200</text>
<line x1="286.7" y1="954" x2="286.7" y2="965" stroke="#000" stroke-width="3"/>
<text x="286.7" y="987.3" font-size="20.3" font-weight="bold" text-anchor="middle">SNB19</text>
<line x1="517.7" y1="954" x2="517.7" y2="965" stroke="#000" stroke-width="3"/>
<text x="517.7" y="987.3" font-size="20.3" font-weight="bold" text-anchor="middle">LN229</text>
<text x="262" y="793" font-size="26.2" font-weight="bold" text-anchor="middle">**</text>
<text x="361" y="740" font-size="24" font-weight="bold" text-anchor="middle">##</text>
<text x="493.3" y="797" font-size="26.2" font-weight="bold" text-anchor="middle">*</text>
<text x="592.7" y="713.3" font-size="24" font-weight="bold" text-anchor="middle">#</text>
<circle cx="210.3" cy="596.3" r="5.3" fill="#333333"/>
<text x="240.7" y="602.9" font-size="22">NC</text>
<circle cx="210.3" cy="622.5" r="5.3" fill="#0000c0"/>
<text x="240.7" y="629.1" font-size="22">miR-195-5p</text>
<circle cx="210.3" cy="651" r="5.3" fill="#700099"/>
<text x="240.7" y="657.6" font-size="22">miR-195-5p+vector</text>
<circle cx="210.3" cy="680.3" r="5.3" fill="#a00000"/>
<text x="240.7" y="686.9" font-size="22">miR-195-5p+HSL</text>
<text x="122" y="822.5" font-size="21.2" font-weight="bold" text-anchor="middle" transform="rotate(-90 122 822.5)">Clone Numbers</text>
<path d="M1509.6 954.7V794.1H1535.2V954.7" fill="none" stroke="#333333" stroke-width="4.5"/>
<line x1="1522.4" y1="805.9" x2="1522.4" y2="778.2" stroke="#333333" stroke-width="2"/>
<line x1="1515.4" y1="778.2" x2="1529.4" y2="778.2" stroke="#333333" stroke-width="2"/>
<line x1="1515.4" y1="805.9" x2="1529.4" y2="805.9" stroke="#333333" stroke-width="2"/>
<circle cx="1512.8" cy="783" r="6" fill="#333333"/>
<circle cx="1531.9" cy="783" r="6" fill="#333333"/>
<circle cx="1522.4" cy="806.8" r="6" fill="#333333"/>
<path d="M1556.6 954.7V888H1582.2V954.7" fill="none" stroke="#0000c0" stroke-width="4.5"/>
<line x1="1569.4" y1="897.5" x2="1569.4" y2="872" stroke="#0000c0" stroke-width="2"/>
<line x1="1562.4" y1="872" x2="1576.4" y2="872" stroke="#0000c0" stroke-width="2"/>
<line x1="1562.4" y1="897.5" x2="1576.4" y2="897.5" stroke="#0000c0" stroke-width="2"/>
<circle cx="1570.1" cy="870.4" r="6" fill="#0000c0"/>
<circle cx="1560.5" cy="892.7" r="6" fill="#0000c0"/>
<circle cx="1579.6" cy="891.1" r="6" fill="#0000c0"/>
<path d="M1603.4 954.7V859.2H1629V954.7" fill="none" stroke="#700099" stroke-width="4.5"/>
<line x1="1616.2" y1="874.6" x2="1616.2" y2="837" stroke="#700099" stroke-width="2"/>
<line x1="1609.2" y1="837" x2="1623.2" y2="837" stroke="#700099" stroke-width="2"/>
<line x1="1609.2" y1="874.6" x2="1623.2" y2="874.6" stroke="#700099" stroke-width="2"/>
<circle cx="1616.2" cy="833.9" r="6" fill="#700099"/>
<circle cx="1606.6" cy="869.5" r="6" fill="#700099"/>
<circle cx="1625.7" cy="862.5" r="6" fill="#700099"/>
<path d="M1650.4 954.7V778.3H1676V954.7" fill="none" stroke="#a00000" stroke-width="4.5"/>
<line x1="1663.2" y1="788.7" x2="1663.2" y2="762.6" stroke="#a00000" stroke-width="2"/>
<line x1="1656.2" y1="762.6" x2="1670.2" y2="762.6" stroke="#a00000" stroke-width="2"/>
<line x1="1656.2" y1="788.7" x2="1670.2" y2="788.7" stroke="#a00000" stroke-width="2"/>
<circle cx="1673.4" cy="763.3" r="6" fill="#a00000"/>
<circle cx="1663.2" cy="775" r="6" fill="#a00000"/>
<circle cx="1663.2" cy="787.8" r="6" fill="#a00000"/>
<path d="M1729 954.7V791.6H1754.6V954.7" fill="none" stroke="#333333" stroke-width="4.5"/>
<line x1="1741.8" y1="811" x2="1741.8" y2="765.8" stroke="#333333" stroke-width="2"/>
<line x1="1734.8" y1="765.8" x2="1748.8" y2="765.8" stroke="#333333" stroke-width="2"/>
<line x1="1734.8" y1="811" x2="1748.8" y2="811" stroke="#333333" stroke-width="2"/>
<circle cx="1741.8" cy="763.3" r="6" fill="#333333"/>
<circle cx="1751.3" cy="796.3" r="6" fill="#333333"/>
<circle cx="1732.2" cy="805.2" r="6" fill="#333333"/>
<path d="M1775.7 954.7V887H1801.3V954.7" fill="none" stroke="#0000c0" stroke-width="4.5"/>
<line x1="1788.5" y1="894.3" x2="1788.5" y2="875.2" stroke="#0000c0" stroke-width="2"/>
<line x1="1781.5" y1="875.2" x2="1795.5" y2="875.2" stroke="#0000c0" stroke-width="2"/>
<line x1="1781.5" y1="894.3" x2="1795.5" y2="894.3" stroke="#0000c0" stroke-width="2"/>
<circle cx="1788.5" cy="874.2" r="6" fill="#0000c0"/>
<circle cx="1798" cy="884.7" r="6" fill="#0000c0"/>
<circle cx="1779" cy="894.3" r="6" fill="#0000c0"/>
<path d="M1822.8 954.7V888.4H1848.4V954.7" fill="none" stroke="#700099" stroke-width="4.5"/>
<line x1="1835.6" y1="896.8" x2="1835.6" y2="875.2" stroke="#700099" stroke-width="2"/>
<line x1="1828.6" y1="875.2" x2="1842.6" y2="875.2" stroke="#700099" stroke-width="2"/>
<line x1="1828.6" y1="896.8" x2="1842.6" y2="896.8" stroke="#700099" stroke-width="2"/>
<circle cx="1835.6" cy="873" r="6" fill="#700099"/>
<circle cx="1845.1" cy="889.5" r="6" fill="#700099"/>
<circle cx="1826" cy="893.6" r="6" fill="#700099"/>
<path d="M1869.8 954.7V806H1895.4V954.7" fill="none" stroke="#a00000" stroke-width="4.5"/>
<line x1="1882.6" y1="822.7" x2="1882.6" y2="783" stroke="#a00000" stroke-width="2"/>
<line x1="1875.6" y1="783" x2="1889.6" y2="783" stroke="#a00000" stroke-width="2"/>
<line x1="1875.6" y1="822.7" x2="1889.6" y2="822.7" stroke="#a00000" stroke-width="2"/>
<circle cx="1882.6" cy="781.4" r="6" fill="#a00000"/>
<circle cx="1892.2" cy="807.8" r="6" fill="#a00000"/>
<circle cx="1882.6" cy="818.6" r="6" fill="#a00000"/>
<line x1="1491.5" y1="671.8" x2="1491.5" y2="956.2" stroke="#000" stroke-width="3"/>
<line x1="1490" y1="954.7" x2="1914.4" y2="954.7" stroke="#000" stroke-width="3"/>
<line x1="1480.5" y1="954.7" x2="1491.5" y2="954.7" stroke="#000" stroke-width="3"/>
<text x="1477.5" y="961.6" font-size="21" font-weight="bold" text-anchor="end">0</text>
<line x1="1480.5" y1="884.4" x2="1491.5" y2="884.4" stroke="#000" stroke-width="3"/>
<text x="1477.5" y="891.3" font-size="21" font-weight="bold" text-anchor="end">20</text>
<line x1="1480.5" y1="814" x2="1491.5" y2="814" stroke="#000" stroke-width="3"/>
<text x="1477.5" y="820.9" font-size="21" font-weight="bold" text-anchor="end">40</text>
<line x1="1480.5" y1="743.6" x2="1491.5" y2="743.6" stroke="#000" stroke-width="3"/>
<text x="1477.5" y="750.6" font-size="21" font-weight="bold" text-anchor="end">60</text>
<line x1="1480.5" y1="673.3" x2="1491.5" y2="673.3" stroke="#000" stroke-width="3"/>
<text x="1477.5" y="680.2" font-size="21" font-weight="bold" text-anchor="end">80</text>
<line x1="1592.6" y1="954.7" x2="1592.6" y2="965.7" stroke="#000" stroke-width="3"/>
<text x="1592.6" y="989.7" font-size="21" font-weight="bold" text-anchor="middle">SNB19</text>
<line x1="1811.7" y1="954.7" x2="1811.7" y2="965.7" stroke="#000" stroke-width="3"/>
<text x="1811.7" y="989.7" font-size="21" font-weight="bold" text-anchor="middle">LN229</text>
<text x="1568.5" y="866" font-size="26.2" font-weight="bold" text-anchor="middle">**</text>
<text x="1663.2" y="748" font-size="24" font-weight="bold" text-anchor="middle">##</text>
<text x="1788.5" y="866" font-size="26.2" font-weight="bold" text-anchor="middle">***</text>
<text x="1882.3" y="766.5" font-size="24" font-weight="bold" text-anchor="middle">##</text>
<circle cx="1511.9" cy="601.1" r="5.3" fill="#333333"/>
<text x="1543.7" y="608" font-size="23">NC</text>
<circle cx="1511.9" cy="629.4" r="5.3" fill="#0000c0"/>
<text x="1543.7" y="636.3" font-size="23">miR-195-5p</text>
<circle cx="1511.9" cy="659" r="5.3" fill="#700099"/>
<text x="1543.7" y="665.9" font-size="23">miR-195-5p+vector</text>
<circle cx="1511.9" cy="689.8" r="5.3" fill="#a00000"/>
<text x="1543.7" y="696.7" font-size="23">miR-195-5p+HSL</text>
<text x="1442" y="815.6" font-size="23" font-weight="bold" text-anchor="middle" transform="rotate(-90 1442 815.6)">Wound healing rate (%)</text>
<path d="M876.8 1402.3V1282.3H894.5V1402.3" fill="none" stroke="#000" stroke-width="2.8"/>
<line x1="885.6" y1="1289.5" x2="885.6" y2="1272.3" stroke="#000" stroke-width="1.3"/>
<line x1="880.6" y1="1272.3" x2="890.6" y2="1272.3" stroke="#000" stroke-width="1.3"/>
<line x1="880.6" y1="1289.5" x2="890.6" y2="1289.5" stroke="#000" stroke-width="1.3"/>
<circle cx="885.1" cy="1288.2" r="4" fill="#000"/>
<circle cx="885.1" cy="1277.4" r="4" fill="#000"/>
<circle cx="892.8" cy="1274.1" r="4" fill="#000"/>
<path d="M909.6 1402.3V1357H927.4V1402.3" fill="none" stroke="#0000c0" stroke-width="2.8"/>
<line x1="918.5" y1="1366.4" x2="918.5" y2="1345.9" stroke="#0000c0" stroke-width="1.3"/>
<line x1="913.5" y1="1345.9" x2="923.5" y2="1345.9" stroke="#0000c0" stroke-width="1.3"/>
<line x1="913.5" y1="1366.4" x2="923.5" y2="1366.4" stroke="#0000c0" stroke-width="1.3"/>
<circle cx="911.5" cy="1363.8" r="4" fill="#0000c0"/>
<circle cx="918.5" cy="1343.3" r="4" fill="#0000c0"/>
<circle cx="925.6" cy="1358.2" r="4" fill="#0000c0"/>
<path d="M942.4 1402.3V1383.1H960.1V1402.3" fill="none" stroke="#700099" stroke-width="2.8"/>
<line x1="951.3" y1="1385.1" x2="951.3" y2="1379.2" stroke="#700099" stroke-width="1.3"/>
<line x1="946.3" y1="1379.2" x2="956.3" y2="1379.2" stroke="#700099" stroke-width="1.3"/>
<line x1="946.3" y1="1385.1" x2="956.3" y2="1385.1" stroke="#700099" stroke-width="1.3"/>
<circle cx="944.9" cy="1383.6" r="4" fill="#700099"/>
<circle cx="952.1" cy="1378.5" r="4" fill="#700099"/>
<circle cx="959" cy="1382.6" r="4" fill="#700099"/>
<path d="M975.1 1402.3V1322.4H992.9V1402.3" fill="none" stroke="#a00000" stroke-width="2.8"/>
<line x1="984" y1="1324.1" x2="984" y2="1319" stroke="#a00000" stroke-width="1.3"/>
<line x1="979" y1="1319" x2="989" y2="1319" stroke="#a00000" stroke-width="1.3"/>
<line x1="979" y1="1324.1" x2="989" y2="1324.1" stroke="#a00000" stroke-width="1.3"/>
<circle cx="977.4" cy="1324.1" r="4" fill="#a00000"/>
<circle cx="984.6" cy="1319.5" r="4" fill="#a00000"/>
<circle cx="991" cy="1320.3" r="4" fill="#a00000"/>
<path d="M1030.2 1402.3V1280.6H1047.8V1402.3" fill="none" stroke="#000" stroke-width="2.8"/>
<line x1="1039" y1="1286.9" x2="1039" y2="1272.3" stroke="#000" stroke-width="1.3"/>
<line x1="1034" y1="1272.3" x2="1044" y2="1272.3" stroke="#000" stroke-width="1.3"/>
<line x1="1034" y1="1286.9" x2="1044" y2="1286.9" stroke="#000" stroke-width="1.3"/>
<circle cx="1039" cy="1285.6" r="4" fill="#000"/>
<circle cx="1039" cy="1277.9" r="4" fill="#000"/>
<circle cx="1046.2" cy="1272.8" r="4" fill="#000"/>
<path d="M1063 1402.3V1368.7H1080.6V1402.3" fill="none" stroke="#0000c0" stroke-width="2.8"/>
<line x1="1071.8" y1="1371.5" x2="1071.8" y2="1359.5" stroke="#0000c0" stroke-width="1.3"/>
<line x1="1066.8" y1="1359.5" x2="1076.8" y2="1359.5" stroke="#0000c0" stroke-width="1.3"/>
<line x1="1066.8" y1="1371.5" x2="1076.8" y2="1371.5" stroke="#0000c0" stroke-width="1.3"/>
<circle cx="1072.3" cy="1374.9" r="4" fill="#0000c0"/>
<circle cx="1072.3" cy="1364.6" r="4" fill="#0000c0"/>
<circle cx="1079.5" cy="1360.5" r="4" fill="#0000c0"/>
<path d="M1095.8 1402.3V1372.4H1113.4V1402.3" fill="none" stroke="#700099" stroke-width="2.8"/>
<line x1="1104.6" y1="1374.1" x2="1104.6" y2="1370.3" stroke="#700099" stroke-width="1.3"/>
<line x1="1099.6" y1="1370.3" x2="1109.6" y2="1370.3" stroke="#700099" stroke-width="1.3"/>
<line x1="1099.6" y1="1374.1" x2="1109.6" y2="1374.1" stroke="#700099" stroke-width="1.3"/>
<circle cx="1097.4" cy="1372.3" r="4" fill="#700099"/>
<circle cx="1104.6" cy="1371.5" r="4" fill="#700099"/>
<circle cx="1111.5" cy="1371.5" r="4" fill="#700099"/>
<path d="M1129.2 1402.3V1339.1H1146.8V1402.3" fill="none" stroke="#a00000" stroke-width="2.8"/>
<line x1="1138" y1="1352.3" x2="1138" y2="1326.7" stroke="#a00000" stroke-width="1.3"/>
<line x1="1133" y1="1326.7" x2="1143" y2="1326.7" stroke="#a00000" stroke-width="1.3"/>
<line x1="1133" y1="1352.3" x2="1143" y2="1352.3" stroke="#a00000" stroke-width="1.3"/>
<circle cx="1137.9" cy="1325.4" r="4" fill="#a00000"/>
<circle cx="1137.9" cy="1338.2" r="4" fill="#a00000"/>
<circle cx="1137.9" cy="1348.5" r="4" fill="#a00000"/>
<line x1="863.3" y1="1213.5" x2="863.3" y2="1403.4" stroke="#000" stroke-width="2.2"/>
<line x1="862.2" y1="1402.3" x2="1161.5" y2="1402.3" stroke="#000" stroke-width="2.2"/>
<line x1="855.3" y1="1402.3" x2="863.3" y2="1402.3" stroke="#000" stroke-width="2.2"/>
<text x="853.3" y="1407.1" font-size="14.6" font-weight="bold" text-anchor="end">0.0</text>
<line x1="855.3" y1="1339.7" x2="863.3" y2="1339.7" stroke="#000" stroke-width="2.2"/>
<text x="853.3" y="1344.6" font-size="14.6" font-weight="bold" text-anchor="end">0.5</text>
<line x1="855.3" y1="1277.2" x2="863.3" y2="1277.2" stroke="#000" stroke-width="2.2"/>
<text x="853.3" y="1282" font-size="14.6" font-weight="bold" text-anchor="end">1.0</text>
<line x1="855.3" y1="1214.6" x2="863.3" y2="1214.6" stroke="#000" stroke-width="2.2"/>
<text x="853.3" y="1219.4" font-size="14.6" font-weight="bold" text-anchor="end">1.5</text>
<line x1="934.9" y1="1402.3" x2="934.9" y2="1413.3" stroke="#000" stroke-width="2.2"/>
<text x="934.9" y="1426.8" font-size="14.3" font-weight="bold" text-anchor="middle">SNB19</text>
<line x1="1088.5" y1="1402.3" x2="1088.5" y2="1413.3" stroke="#000" stroke-width="2.2"/>
<text x="1088.5" y="1426.8" font-size="14.3" font-weight="bold" text-anchor="middle">LN229</text>
<text x="918.5" y="1342.7" font-size="18.5" font-weight="bold" text-anchor="middle">****</text>
<text x="984" y="1309.2" font-size="17" font-weight="bold" text-anchor="middle">####</text>
<text x="1071.8" y="1358.9" font-size="18.5" font-weight="bold" text-anchor="middle">****</text>
<text x="1138" y="1314.6" font-size="17" font-weight="bold" text-anchor="middle">###</text>
<circle cx="881" cy="1137" r="3.6" fill="#000"/>
<text x="902.6" y="1141.7" font-size="15.5">NC</text>
<circle cx="881" cy="1163" r="3.6" fill="#0000c0"/>
<text x="902.6" y="1167.7" font-size="15.5">miR-195-5p</text>
<circle cx="881" cy="1188" r="3.6" fill="#700099"/>
<text x="902.6" y="1192.7" font-size="15.5">miR-195-5p+vector</text>
<circle cx="881" cy="1214" r="3.6" fill="#a00000"/>
<text x="902.6" y="1218.7" font-size="15.5">miR-195-5p+HSL</text>
<text x="825" y="1308.4" font-size="15" font-weight="bold" text-anchor="middle" transform="rotate(-90 825 1308.4)">Invasion Index</text>
<path d="M876.8 1734.1V1616.9H894.5V1734.1" fill="none" stroke="#000" stroke-width="2.8"/>
<line x1="885.6" y1="1621.3" x2="885.6" y2="1604.6" stroke="#000" stroke-width="1.3"/>
<line x1="880.6" y1="1604.6" x2="890.6" y2="1604.6" stroke="#000" stroke-width="1.3"/>
<line x1="880.6" y1="1621.3" x2="890.6" y2="1621.3" stroke="#000" stroke-width="1.3"/>
<circle cx="878.2" cy="1608.5" r="4" fill="#000"/>
<circle cx="892.8" cy="1609.7" r="4" fill="#000"/>
<circle cx="885.1" cy="1626.4" r="4" fill="#000"/>
<path d="M909.6 1734.1V1697H927.4V1734.1" fill="none" stroke="#0000c0" stroke-width="2.8"/>
<line x1="918.5" y1="1699.5" x2="918.5" y2="1690.5" stroke="#0000c0" stroke-width="1.3"/>
<line x1="913.5" y1="1690.5" x2="923.5" y2="1690.5" stroke="#0000c0" stroke-width="1.3"/>
<line x1="913.5" y1="1699.5" x2="923.5" y2="1699.5" stroke="#0000c0" stroke-width="1.3"/>
<circle cx="911.5" cy="1699" r="4" fill="#0000c0"/>
<circle cx="918.5" cy="1689.2" r="4" fill="#0000c0"/>
<circle cx="925.6" cy="1698.2" r="4" fill="#0000c0"/>
<path d="M942.4 1734.1V1711.1H960.1V1734.1" fill="none" stroke="#700099" stroke-width="2.8"/>
<line x1="951.3" y1="1714.9" x2="951.3" y2="1704.6" stroke="#700099" stroke-width="1.3"/>
<line x1="946.3" y1="1704.6" x2="956.3" y2="1704.6" stroke="#700099" stroke-width="1.3"/>
<line x1="946.3" y1="1714.9" x2="956.3" y2="1714.9" stroke="#700099" stroke-width="1.3"/>
<circle cx="944.9" cy="1714.9" r="4" fill="#700099"/>
<circle cx="952.1" cy="1705.1" r="4" fill="#700099"/>
<circle cx="959" cy="1709.7" r="4" fill="#700099"/>
<path d="M975.1 1734.1V1684.1H992.9V1734.1" fill="none" stroke="#a00000" stroke-width="2.8"/>
<line x1="984" y1="1689.7" x2="984" y2="1674.4" stroke="#a00000" stroke-width="1.3"/>
<line x1="979" y1="1674.4" x2="989" y2="1674.4" stroke="#a00000" stroke-width="1.3"/>
<line x1="979" y1="1689.7" x2="989" y2="1689.7" stroke="#a00000" stroke-width="1.3"/>
<circle cx="977.4" cy="1686.7" r="4" fill="#a00000"/>
<circle cx="984.6" cy="1673.8" r="4" fill="#a00000"/>
<circle cx="991" cy="1686.7" r="4" fill="#a00000"/>
<path d="M1030.2 1734.1V1605.5H1047.8V1734.1" fill="none" stroke="#000" stroke-width="2.8"/>
<line x1="1039" y1="1616.9" x2="1039" y2="1589.2" stroke="#000" stroke-width="1.3"/>
<line x1="1034" y1="1589.2" x2="1044" y2="1589.2" stroke="#000" stroke-width="1.3"/>
<line x1="1034" y1="1616.9" x2="1044" y2="1616.9" stroke="#000" stroke-width="1.3"/>
<circle cx="1032.1" cy="1612.8" r="4" fill="#000"/>
<circle cx="1039" cy="1588.7" r="4" fill="#000"/>
<circle cx="1046.2" cy="1609.7" r="4" fill="#000"/>
<path d="M1063 1734.1V1676.6H1080.6V1734.1" fill="none" stroke="#0000c0" stroke-width="2.8"/>
<line x1="1071.8" y1="1677.2" x2="1071.8" y2="1672.6" stroke="#0000c0" stroke-width="1.3"/>
<line x1="1066.8" y1="1672.6" x2="1076.8" y2="1672.6" stroke="#0000c0" stroke-width="1.3"/>
<line x1="1066.8" y1="1677.2" x2="1076.8" y2="1677.2" stroke="#0000c0" stroke-width="1.3"/>
<circle cx="1065.4" cy="1677.7" r="4" fill="#0000c0"/>
<circle cx="1072.3" cy="1672.6" r="4" fill="#0000c0"/>
<circle cx="1079.5" cy="1675.9" r="4" fill="#0000c0"/>
<path d="M1095.8 1734.1V1697.9H1113.4V1734.1" fill="none" stroke="#700099" stroke-width="2.8"/>
<line x1="1104.6" y1="1704.6" x2="1104.6" y2="1690.5" stroke="#700099" stroke-width="1.3"/>
<line x1="1099.6" y1="1690.5" x2="1109.6" y2="1690.5" stroke="#700099" stroke-width="1.3"/>
<line x1="1099.6" y1="1704.6" x2="1109.6" y2="1704.6" stroke="#700099" stroke-width="1.3"/>
<circle cx="1097.9" cy="1695.6" r="4" fill="#700099"/>
<circle cx="1105.1" cy="1702.1" r="4" fill="#700099"/>
<circle cx="1112.3" cy="1690.5" r="4" fill="#700099"/>
<path d="M1129.2 1734.1V1657.3H1146.8V1734.1" fill="none" stroke="#a00000" stroke-width="2.8"/>
<line x1="1138" y1="1662.3" x2="1138" y2="1642.6" stroke="#a00000" stroke-width="1.3"/>
<line x1="1133" y1="1642.6" x2="1143" y2="1642.6" stroke="#a00000" stroke-width="1.3"/>
<line x1="1133" y1="1662.3" x2="1143" y2="1662.3" stroke="#a00000" stroke-width="1.3"/>
<circle cx="1137.9" cy="1643.1" r="4" fill="#a00000"/>
<circle cx="1137.9" cy="1655.9" r="4" fill="#a00000"/>
<circle cx="1137.9" cy="1666.2" r="4" fill="#a00000"/>
<line x1="863.3" y1="1545.1" x2="863.3" y2="1735.2" stroke="#000" stroke-width="2.2"/>
<line x1="862.2" y1="1734.1" x2="1161.5" y2="1734.1" stroke="#000" stroke-width="2.2"/>
<line x1="855.3" y1="1734.1" x2="863.3" y2="1734.1" stroke="#000" stroke-width="2.2"/>
<text x="853.3" y="1738.9" font-size="14.6" font-weight="bold" text-anchor="end">0.0</text>
<line x1="855.3" y1="1671.5" x2="863.3" y2="1671.5" stroke="#000" stroke-width="2.2"/>
<text x="853.3" y="1676.3" font-size="14.6" font-weight="bold" text-anchor="end">0.5</text>
<line x1="855.3" y1="1608.8" x2="863.3" y2="1608.8" stroke="#000" stroke-width="2.2"/>
<text x="853.3" y="1613.7" font-size="14.6" font-weight="bold" text-anchor="end">1.0</text>
<line x1="855.3" y1="1546.2" x2="863.3" y2="1546.2" stroke="#000" stroke-width="2.2"/>
<text x="853.3" y="1551" font-size="14.6" font-weight="bold" text-anchor="end">1.5</text>
<line x1="934.9" y1="1734.1" x2="934.9" y2="1745.1" stroke="#000" stroke-width="2.2"/>
<text x="934.9" y="1758.6" font-size="14.3" font-weight="bold" text-anchor="middle">SNB19</text>
<line x1="1088.5" y1="1734.1" x2="1088.5" y2="1745.1" stroke="#000" stroke-width="2.2"/>
<text x="1088.5" y="1758.6" font-size="14.3" font-weight="bold" text-anchor="middle">LN229</text>
<text x="918.5" y="1684.8" font-size="18.5" font-weight="bold" text-anchor="middle">****</text>
<text x="984" y="1663.6" font-size="17" font-weight="bold" text-anchor="middle">##</text>
<text x="1071.8" y="1668.1" font-size="18.5" font-weight="bold" text-anchor="middle">****</text>
<text x="1138" y="1631.5" font-size="17" font-weight="bold" text-anchor="middle">###</text>
<circle cx="881" cy="1469.2" r="3.6" fill="#000"/>
<text x="902.6" y="1473.9" font-size="15.5">NC</text>
<circle cx="881" cy="1495.1" r="3.6" fill="#0000c0"/>
<text x="902.6" y="1499.8" font-size="15.5">miR-195-5p</text>
<circle cx="881" cy="1520.8" r="3.6" fill="#700099"/>
<text x="902.6" y="1525.5" font-size="15.5">miR-195-5p+vector</text>
<circle cx="881" cy="1546.2" r="3.6" fill="#a00000"/>
<text x="902.6" y="1550.9" font-size="15.5">miR-195-5p+HSL</text>
<text x="825" y="1640.2" font-size="15" font-weight="bold" text-anchor="middle" transform="rotate(-90 825 1640.2)">Migration Index</text>
<g clip-path="url(#dc11)">
<ellipse cx="1424.3" cy="137.1" rx="75" ry="73.3" fill="#dbd9e2"/>
<g fill="#8070d8" opacity="0.35" filter="url(#fblur3)"><circle cx="1359.1" cy="156.8" r="8.6"/><circle cx="1358.3" cy="151.2" r="6.9"/><circle cx="1451.3" cy="197.7" r="7.1"/><circle cx="1441" cy="78.1" r="5.5"/><circle cx="1484.3" cy="174.6" r="7.5"/><circle cx="1495.1" cy="155.7" r="8.8"/><circle cx="1385.2" cy="81.7" r="4.8"/><circle cx="1491.8" cy="143.3" r="4.3"/><circle cx="1447.9" cy="195.7" r="4.2"/><circle cx="1359.2" cy="151.8" r="8.2"/><circle cx="1355.6" cy="129" r="6.5"/><circle cx="1389.3" cy="81.3" r="5.4"/><circle cx="1497.7" cy="136" r="8.2"/><circle cx="1407.2" cy="75.5" r="5.1"/><circle cx="1409.2" cy="196.2" r="7.8"/><circle cx="1366.2" cy="178.1" r="5.9"/><circle cx="1493.5" cy="118.8" r="4"/><circle cx="1442.4" cy="205.6" r="6.3"/><circle cx="1490.1" cy="129.1" r="4.4"/><circle cx="1375.6" cy="86.8" r="5.3"/><circle cx="1480.2" cy="170.4" r="8.8"/><circle cx="1427.5" cy="75.7" r="5.2"/><circle cx="1474.4" cy="173.2" r="8"/><circle cx="1454.2" cy="197" r="6.2"/><circle cx="1449.9" cy="201.1" r="4.7"/><circle cx="1385.3" cy="88.8" r="6.1"/><circle cx="1439.3" cy="198.7" r="8.9"/><circle cx="1445.8" cy="77" r="8.4"/><circle cx="1440.5" cy="199.9" r="8.3"/><circle cx="1384.9" cy="89.4" r="8.9"/><circle cx="1439.1" cy="198.6" r="7.9"/><circle cx="1393.3" cy="193" r="4.4"/><circle cx="1482.1" cy="173" r="5.2"/><circle cx="1371.3" cy="98.8" r="6.3"/><circle cx="1489.4" cy="120.4" r="6.9"/><circle cx="1466.9" cy="90.8" r="4.8"/><circle cx="1484.1" cy="99.2" r="5.2"/><circle cx="1450.3" cy="201" r="8.7"/><circle cx="1448.3" cy="204.4" r="8.4"/><circle cx="1371.3" cy="97.7" r="4.5"/><circle cx="1495.2" cy="154.3" r="5.2"/><circle cx="1406.1" cy="76.5" r="8.1"/><circle cx="1370.9" cy="100.9" r="4.9"/><circle cx="1412.8" cy="77.2" r="5.1"/><circle cx="1357.5" cy="111.6" r="7.1"/><circle cx="1410.6" cy="206.7" r="5"/><circle cx="1488.7" cy="143.7" r="6.2"/><circle cx="1483.4" cy="160.2" r="5.8"/></g>
<ellipse cx="1424.3" cy="138.1" rx="62.2" ry="60.8" fill="none" stroke="#6a62a0" stroke-width="0.8" opacity="0.7"/>
<ellipse cx="1424.3" cy="137.1" rx="72" ry="70.3" fill="none" stroke="#f4f4f8" stroke-width="2" opacity="0.7"/>
<g fill="#3a24cc" filter="url(#fblur1)"><circle cx="1434.4" cy="86.9" r="2.2"/><circle cx="1446.2" cy="163.2" r="3"/><circle cx="1357.5" cy="155.7" r="2.6"/><circle cx="1456.5" cy="112.4" r="4.8"/><circle cx="1365" cy="143.4" r="3.6"/><circle cx="1480.1" cy="169.4" r="3.4"/><circle cx="1403.6" cy="162.3" r="4.3"/><circle cx="1476.1" cy="125.8" r="3.8"/><circle cx="1475" cy="147" r="3.1"/><circle cx="1407.9" cy="148.4" r="3.1"/><circle cx="1365.7" cy="156.1" r="4.8"/><circle cx="1477.3" cy="168.2" r="2.3"/><circle cx="1457.1" cy="148.1" r="2.5"/><circle cx="1438.4" cy="134.5" r="1.9"/><circle cx="1452" cy="136.7" r="3.1"/><circle cx="1483" cy="103.8" r="1.5"/><circle cx="1396.5" cy="161.4" r="1.8"/><circle cx="1446.6" cy="129.2" r="4.3"/><circle cx="1400.2" cy="159.7" r="1.8"/><circle cx="1414.7" cy="178.8" r="4.4"/><circle cx="1477.3" cy="121.3" r="3"/><circle cx="1398.7" cy="87.5" r="2.7"/><circle cx="1471.3" cy="184.6" r="3.5"/><circle cx="1378.1" cy="130.4" r="2"/><circle cx="1384.4" cy="125.4" r="3.1"/><circle cx="1423.4" cy="111.9" r="4"/><circle cx="1491.5" cy="130.6" r="1.6"/><circle cx="1434.1" cy="111.1" r="3.8"/><circle cx="1418" cy="72.3" r="4"/><circle cx="1387.7" cy="88.1" r="1.5"/><circle cx="1442.3" cy="129.8" r="3.2"/><circle cx="1445.9" cy="179" r="4.6"/><circle cx="1450" cy="96.1" r="2.6"/><circle cx="1420.4" cy="166.3" r="1.8"/><circle cx="1392.5" cy="116.1" r="3.4"/><circle cx="1427.1" cy="152.7" r="3.7"/><circle cx="1409.4" cy="176.9" r="4.3"/><circle cx="1455.3" cy="86.6" r="2.5"/><circle cx="1441.8" cy="193" r="2.3"/><circle cx="1433.9" cy="188.8" r="3.8"/><circle cx="1486.3" cy="132.2" r="3.2"/><circle cx="1383.1" cy="167.4" r="3.9"/><circle cx="1444.1" cy="166.8" r="1.8"/><circle cx="1490.9" cy="142.1" r="3.8"/><circle cx="1399.2" cy="193" r="4.1"/><circle cx="1403.2" cy="80.2" r="2.5"/><circle cx="1431.3" cy="173.7" r="2.6"/><circle cx="1378.7" cy="114.6" r="3.8"/><circle cx="1426.6" cy="167.6" r="4"/><circle cx="1450.7" cy="197.9" r="2.6"/><circle cx="1385.4" cy="140.7" r="2"/><circle cx="1456.2" cy="156" r="2.7"/><circle cx="1472.2" cy="145.3" r="2.1"/><circle cx="1407.7" cy="184.2" r="4.3"/><circle cx="1383.6" cy="184.9" r="4.6"/><circle cx="1427.7" cy="147.1" r="1.8"/><circle cx="1429.3" cy="137.5" r="3.1"/><circle cx="1426.5" cy="123.5" r="3.9"/><circle cx="1433.1" cy="135.9" r="3.4"/><circle cx="1363.7" cy="142.4" r="2.4"/><circle cx="1392.1" cy="133.4" r="1.6"/><circle cx="1415" cy="180.1" r="4.3"/><circle cx="1421" cy="112.2" r="1.8"/><circle cx="1440.7" cy="195.1" r="1.7"/><circle cx="1381.6" cy="99.9" r="3.4"/><circle cx="1399.5" cy="117.4" r="3.1"/><circle cx="1369.2" cy="168.6" r="1.6"/><circle cx="1425.8" cy="103.1" r="1.8"/><circle cx="1428.5" cy="128.5" r="2.3"/><circle cx="1412.2" cy="141.1" r="1.7"/><circle cx="1383" cy="155" r="3.2"/><circle cx="1428.4" cy="185" r="3.1"/><circle cx="1474.1" cy="100.7" r="3.6"/><circle cx="1398.6" cy="111.9" r="4.4"/><circle cx="1387.9" cy="168" r="1.9"/><circle cx="1413.4" cy="176.6" r="1.6"/><circle cx="1410.7" cy="162.4" r="1.5"/><circle cx="1382.6" cy="162" r="4.4"/><circle cx="1425.1" cy="172.3" r="2.7"/><circle cx="1450.2" cy="94.7" r="1.6"/><circle cx="1431.5" cy="139.1" r="2.9"/><circle cx="1375" cy="94.1" r="1.8"/><circle cx="1419" cy="173.2" r="2.1"/><circle cx="1419.7" cy="139.2" r="2.4"/><circle cx="1438.4" cy="70.7" r="3.4"/><circle cx="1472.3" cy="93.6" r="2.5"/><circle cx="1457.7" cy="124.2" r="1.8"/><circle cx="1377.6" cy="138.8" r="1.5"/><circle cx="1479.1" cy="178.2" r="3.5"/><circle cx="1474.6" cy="154.7" r="2.3"/><circle cx="1438.2" cy="137.7" r="4.7"/><circle cx="1466.8" cy="104.1" r="4.4"/><circle cx="1458.4" cy="175" r="3.9"/><circle cx="1411.1" cy="191.2" r="4.2"/><circle cx="1451.5" cy="173.5" r="3.7"/><circle cx="1411.2" cy="167.5" r="1.6"/><circle cx="1402.2" cy="132.9" r="1.5"/><circle cx="1404.2" cy="156" r="3.1"/><circle cx="1447.5" cy="115" r="3.3"/><circle cx="1434" cy="141.6" r="2.3"/><circle cx="1452.4" cy="172.8" r="4.7"/><circle cx="1357.7" cy="152.8" r="3.6"/><circle cx="1390.4" cy="123.7" r="1.5"/><circle cx="1381.8" cy="120.2" r="1.6"/><circle cx="1389.5" cy="192.4" r="2.8"/><circle cx="1425.4" cy="200.8" r="2.9"/><circle cx="1437.9" cy="172.4" r="1.5"/><circle cx="1420.4" cy="92" r="2.7"/><circle cx="1439.8" cy="76.9" r="4.5"/><circle cx="1413.2" cy="140.7" r="3"/><circle cx="1405.5" cy="107.9" r="3.2"/><circle cx="1432.8" cy="107.6" r="3.5"/><circle cx="1376.4" cy="171.8" r="2.3"/><circle cx="1479.8" cy="171" r="1.5"/><circle cx="1414.5" cy="134" r="4.7"/><circle cx="1388.5" cy="140.3" r="4.5"/><circle cx="1455.4" cy="132.8" r="4.7"/><circle cx="1468.5" cy="151.2" r="1.6"/><circle cx="1441.6" cy="131.1" r="1.8"/><circle cx="1361.8" cy="140.9" r="1.6"/><circle cx="1416.3" cy="160" r="2.5"/><circle cx="1391.1" cy="148.3" r="2.4"/><circle cx="1463.1" cy="141.3" r="4.8"/><circle cx="1387.8" cy="84.5" r="4.3"/><circle cx="1464" cy="154.1" r="2.2"/><circle cx="1392.4" cy="162.3" r="2.9"/><circle cx="1437.1" cy="155.2" r="3.7"/><circle cx="1381" cy="102.9" r="4.7"/><circle cx="1392.3" cy="126.9" r="3.1"/><circle cx="1368.8" cy="142.8" r="1.6"/><circle cx="1366.6" cy="161.1" r="2.8"/><circle cx="1442.6" cy="119.8" r="2.6"/><circle cx="1383.9" cy="115.8" r="3.6"/><circle cx="1371.3" cy="179.3" r="3.1"/><circle cx="1461.8" cy="98" r="2.4"/><circle cx="1390.6" cy="179.3" r="2.2"/><circle cx="1399.9" cy="143.7" r="3.6"/><circle cx="1483" cy="127.2" r="2.2"/><circle cx="1433.3" cy="135" r="3.4"/><circle cx="1396.2" cy="174.7" r="1.6"/><circle cx="1384.3" cy="159.2" r="1.6"/><circle cx="1396.9" cy="167.8" r="3.4"/><circle cx="1394" cy="88.4" r="2.2"/><circle cx="1455.8" cy="118.9" r="1.6"/><circle cx="1453.5" cy="146.5" r="4.4"/><circle cx="1415.6" cy="178.4" r="2.1"/><circle cx="1398.9" cy="123.4" r="4.5"/><circle cx="1479.4" cy="102.8" r="2.2"/><circle cx="1405.5" cy="118.5" r="2.3"/><circle cx="1408.6" cy="95.5" r="2.9"/><circle cx="1465.7" cy="142.6" r="4"/><circle cx="1433.1" cy="93" r="3.7"/><circle cx="1477.4" cy="107.3" r="1.5"/><circle cx="1426.5" cy="143.1" r="2.9"/><circle cx="1489.4" cy="157.7" r="3.9"/><circle cx="1363.5" cy="143.5" r="3.8"/><circle cx="1457.4" cy="191.5" r="1.6"/><circle cx="1443" cy="88.5" r="3.6"/><circle cx="1445.1" cy="102.4" r="1.8"/><circle cx="1461.3" cy="140" r="3.7"/><circle cx="1409.6" cy="115" r="4.6"/><circle cx="1448.3" cy="136.2" r="2.8"/><circle cx="1455.1" cy="165.5" r="4.4"/><circle cx="1411.8" cy="181.6" r="3.3"/><circle cx="1473.6" cy="178.8" r="4"/><circle cx="1443.9" cy="140.4" r="3.5"/><circle cx="1466.5" cy="126.4" r="2.4"/><circle cx="1374.9" cy="170" r="4.8"/><circle cx="1406.9" cy="91.8" r="1.8"/><circle cx="1413.8" cy="108.7" r="4.7"/><circle cx="1362.8" cy="111" r="1.6"/><circle cx="1444.9" cy="174.7" r="1.8"/><circle cx="1363.2" cy="131.5" r="3"/><circle cx="1384.9" cy="101" r="3.5"/><circle cx="1437.5" cy="99.5" r="1.8"/><circle cx="1393.8" cy="92.5" r="3.7"/><circle cx="1398" cy="143.7" r="3.9"/><circle cx="1421.4" cy="104.4" r="4.3"/><circle cx="1482.1" cy="115.6" r="2.8"/><circle cx="1488.1" cy="134.7" r="1.8"/><circle cx="1466.3" cy="121.4" r="2.8"/><circle cx="1426.5" cy="106.4" r="4.8"/><circle cx="1446.3" cy="101.3" r="1.5"/><circle cx="1420.5" cy="119.6" r="3.8"/><circle cx="1454.1" cy="151.6" r="1.7"/><circle cx="1376.4" cy="112.8" r="1.9"/><circle cx="1475.8" cy="139.3" r="3.2"/><circle cx="1429.1" cy="89.5" r="3.7"/><circle cx="1472.6" cy="181" r="1.6"/><circle cx="1392.2" cy="166.6" r="1.6"/></g>
</g>
<ellipse cx="1424.3" cy="137.1" rx="74.4" ry="72.7" fill="none" stroke="#c4c2cc" stroke-width="1.2"/>
<g clip-path="url(#dc12)">
<ellipse cx="1574.7" cy="137.3" rx="73.2" ry="73" fill="#dbd9e2"/>
<g fill="#8070d8" opacity="0.35" filter="url(#fblur3)"><circle cx="1507.8" cy="148" r="7.3"/><circle cx="1612.3" cy="184.1" r="5.9"/><circle cx="1564.2" cy="205.8" r="7.5"/><circle cx="1521.2" cy="97.8" r="7.3"/><circle cx="1614.5" cy="188.7" r="4.8"/><circle cx="1625.1" cy="103.6" r="8.1"/><circle cx="1635.4" cy="168" r="5.7"/><circle cx="1517" cy="176.6" r="4.1"/><circle cx="1640.3" cy="163.6" r="6.5"/><circle cx="1634.9" cy="175.9" r="8.7"/><circle cx="1624.1" cy="179.4" r="4.7"/><circle cx="1548.9" cy="199.3" r="4.8"/><circle cx="1554.8" cy="80.2" r="4.9"/><circle cx="1600.7" cy="78.2" r="6.1"/><circle cx="1520.7" cy="100.2" r="5.9"/><circle cx="1642" cy="150.3" r="8.8"/><circle cx="1641.7" cy="127.3" r="5.8"/><circle cx="1530.3" cy="188.8" r="7.4"/><circle cx="1622.1" cy="178.4" r="5.8"/><circle cx="1505.4" cy="132.4" r="6.5"/><circle cx="1643.3" cy="149.5" r="6.2"/><circle cx="1512.5" cy="129.9" r="6.1"/><circle cx="1522" cy="181.8" r="4.5"/><circle cx="1515.6" cy="118.2" r="7.5"/><circle cx="1636.3" cy="151.8" r="5.7"/><circle cx="1535.2" cy="91.5" r="6.3"/><circle cx="1590.9" cy="198.3" r="6.4"/><circle cx="1638.2" cy="120.5" r="8.8"/><circle cx="1609.8" cy="198.7" r="5.8"/><circle cx="1600.3" cy="201" r="8.6"/><circle cx="1637.8" cy="139.9" r="7.9"/><circle cx="1540.4" cy="189.8" r="4"/></g>
<ellipse cx="1574.7" cy="138.3" rx="60.8" ry="60.6" fill="none" stroke="#6a62a0" stroke-width="0.8" opacity="0.7"/>
<ellipse cx="1574.7" cy="137.3" rx="70.2" ry="70" fill="none" stroke="#f4f4f8" stroke-width="2" opacity="0.7"/>
<g fill="#3a24cc" filter="url(#fblur1)"><circle cx="1512.1" cy="153.5" r="4.1"/><circle cx="1642.6" cy="137.8" r="1.3"/><circle cx="1550.5" cy="176.3" r="3.5"/><circle cx="1593.7" cy="100.6" r="2.4"/><circle cx="1571.6" cy="154.5" r="1.7"/><circle cx="1528.7" cy="109" r="3.7"/><circle cx="1544.5" cy="197.6" r="2.4"/><circle cx="1601.4" cy="165.1" r="1.6"/><circle cx="1545.4" cy="104" r="2.9"/><circle cx="1601.1" cy="87.3" r="3.7"/><circle cx="1563.9" cy="102.2" r="2.1"/><circle cx="1640" cy="145.4" r="2.7"/><circle cx="1610.2" cy="126.1" r="2.6"/><circle cx="1629.3" cy="176.6" r="2.6"/><circle cx="1553.9" cy="119.4" r="3.1"/><circle cx="1583.3" cy="71.7" r="3"/><circle cx="1579.5" cy="176.6" r="2"/><circle cx="1520" cy="117.4" r="1.8"/><circle cx="1633.8" cy="163" r="2.5"/><circle cx="1591.3" cy="86.3" r="2.4"/><circle cx="1602" cy="122.9" r="1.7"/><circle cx="1562" cy="113.3" r="2.9"/><circle cx="1549.2" cy="163.9" r="3.2"/><circle cx="1596.4" cy="196.3" r="1.9"/><circle cx="1510.7" cy="135.6" r="2.2"/><circle cx="1531" cy="160" r="1.9"/><circle cx="1539.1" cy="113.9" r="4"/><circle cx="1544.7" cy="96.7" r="2.1"/><circle cx="1574.8" cy="164.2" r="1.5"/><circle cx="1569.9" cy="151.8" r="3.5"/><circle cx="1540.6" cy="131.8" r="3.6"/><circle cx="1619.9" cy="100.3" r="2.4"/><circle cx="1610.3" cy="123.1" r="2.9"/><circle cx="1596.9" cy="201.4" r="2.5"/><circle cx="1599.3" cy="117" r="3.1"/><circle cx="1550.5" cy="137.3" r="1.9"/><circle cx="1548.4" cy="87.9" r="1.6"/><circle cx="1580.7" cy="103.6" r="1.3"/><circle cx="1616" cy="108.2" r="3.9"/><circle cx="1588.2" cy="122.2" r="3.7"/><circle cx="1628.8" cy="113" r="1.4"/><circle cx="1593.9" cy="183.8" r="2.7"/><circle cx="1613.4" cy="125.4" r="2.7"/><circle cx="1542.5" cy="124.7" r="2"/><circle cx="1559" cy="123.7" r="3.4"/><circle cx="1529.7" cy="97.3" r="1.7"/><circle cx="1638.8" cy="140.4" r="1.3"/><circle cx="1618.4" cy="118.1" r="3.1"/><circle cx="1548.2" cy="88" r="3.6"/><circle cx="1620" cy="98.1" r="3.7"/><circle cx="1528.9" cy="166.6" r="1.8"/><circle cx="1532.5" cy="94.4" r="1.8"/><circle cx="1624" cy="151.8" r="1.4"/><circle cx="1599.9" cy="142.2" r="2.2"/><circle cx="1578.5" cy="157.9" r="3.4"/><circle cx="1575.4" cy="155.7" r="2.2"/><circle cx="1593" cy="122.2" r="2.1"/><circle cx="1577" cy="166.5" r="1.7"/><circle cx="1632.5" cy="136.2" r="3.6"/><circle cx="1600.6" cy="199.3" r="2.9"/><circle cx="1564.7" cy="124.5" r="2.7"/><circle cx="1609.3" cy="183.3" r="1.4"/><circle cx="1522" cy="162.5" r="2.7"/><circle cx="1632.7" cy="134" r="1.6"/><circle cx="1609.7" cy="126.9" r="2.5"/><circle cx="1549.6" cy="102.2" r="1.4"/><circle cx="1589.2" cy="198.8" r="4.1"/><circle cx="1555.9" cy="109.9" r="3.9"/><circle cx="1588.3" cy="160.3" r="1.3"/><circle cx="1537.7" cy="134.9" r="3.1"/><circle cx="1619.1" cy="172.2" r="1.9"/><circle cx="1558.6" cy="186.5" r="4.2"/><circle cx="1572.7" cy="95.9" r="2.7"/><circle cx="1579.6" cy="118.5" r="1.6"/><circle cx="1559.1" cy="152.6" r="1.4"/><circle cx="1580.3" cy="198.7" r="3.2"/><circle cx="1541" cy="126.2" r="1.4"/><circle cx="1607" cy="155.2" r="1.5"/><circle cx="1581.2" cy="150.3" r="2.6"/><circle cx="1558.1" cy="111.5" r="1.9"/><circle cx="1575" cy="131.9" r="1.5"/><circle cx="1561.1" cy="97.2" r="1.8"/><circle cx="1556.6" cy="116.9" r="3.9"/><circle cx="1547" cy="114.5" r="2.8"/><circle cx="1560.7" cy="139.4" r="2.8"/><circle cx="1516.7" cy="160.6" r="1.4"/><circle cx="1540.7" cy="179.4" r="4.2"/><circle cx="1598.4" cy="92.7" r="2.1"/><circle cx="1545.1" cy="183.6" r="1.6"/><circle cx="1533.3" cy="156" r="2.8"/><circle cx="1586.9" cy="134.4" r="4"/><circle cx="1569" cy="196.6" r="2"/><circle cx="1570" cy="118.2" r="3.1"/><circle cx="1608.9" cy="101.9" r="2.4"/><circle cx="1605.5" cy="137.5" r="2.9"/><circle cx="1590.5" cy="166.4" r="1.9"/><circle cx="1627.8" cy="176.7" r="2"/><circle cx="1527.3" cy="183" r="2.1"/><circle cx="1549.4" cy="104.6" r="2.1"/><circle cx="1522.5" cy="111.1" r="1.5"/><circle cx="1558.3" cy="136" r="2.7"/><circle cx="1537.7" cy="186.2" r="3.8"/><circle cx="1633.5" cy="141.2" r="1.9"/><circle cx="1610.8" cy="144.3" r="3.3"/><circle cx="1542.1" cy="141.9" r="3.8"/><circle cx="1521.4" cy="153.2" r="1.5"/><circle cx="1620.7" cy="183.4" r="2.8"/><circle cx="1566" cy="72.3" r="2.3"/><circle cx="1555.5" cy="123.7" r="1.4"/><circle cx="1631.9" cy="140.3" r="2.5"/><circle cx="1581.5" cy="143.3" r="3.6"/><circle cx="1557.3" cy="191.7" r="1.3"/><circle cx="1615" cy="141.1" r="2.7"/><circle cx="1562.1" cy="178" r="3.2"/><circle cx="1578" cy="174.9" r="2.9"/><circle cx="1625" cy="157.7" r="1.9"/><circle cx="1545.7" cy="80.6" r="1.4"/><circle cx="1525.8" cy="151.3" r="1.4"/><circle cx="1638.2" cy="141.7" r="1.5"/><circle cx="1619.2" cy="186.2" r="4.1"/><circle cx="1537" cy="124.1" r="2.9"/><circle cx="1545.1" cy="146.7" r="3"/><circle cx="1608.9" cy="181.3" r="3.2"/><circle cx="1545.5" cy="172" r="2.1"/><circle cx="1591.3" cy="118" r="1.4"/><circle cx="1573.3" cy="125.7" r="1.8"/><circle cx="1583.7" cy="142.6" r="2.4"/><circle cx="1547.3" cy="187.8" r="1.8"/><circle cx="1549.9" cy="195.9" r="2.9"/><circle cx="1602.8" cy="97.2" r="1.4"/><circle cx="1530.5" cy="127.9" r="3.5"/><circle cx="1612.7" cy="128.8" r="3.8"/><circle cx="1549.7" cy="76.4" r="4"/><circle cx="1626.6" cy="159.1" r="2.3"/><circle cx="1534.4" cy="99.2" r="1.4"/><circle cx="1519.4" cy="134.5" r="3.8"/><circle cx="1633.6" cy="139.2" r="2.9"/><circle cx="1570.3" cy="174.8" r="3"/><circle cx="1598.9" cy="149.6" r="1.5"/><circle cx="1570.8" cy="130.2" r="1.5"/><circle cx="1534.1" cy="125.3" r="1.5"/><circle cx="1591.6" cy="113.9" r="4.1"/><circle cx="1599.8" cy="139.6" r="2.1"/><circle cx="1559.9" cy="96.6" r="4"/><circle cx="1631" cy="157.7" r="2.8"/><circle cx="1526.2" cy="142.9" r="1.5"/><circle cx="1550.8" cy="149.1" r="1.5"/><circle cx="1538.4" cy="168.6" r="2.3"/><circle cx="1589.5" cy="163.6" r="2.5"/><circle cx="1574.1" cy="192.9" r="1.5"/></g>
</g>
<ellipse cx="1574.7" cy="137.3" rx="72.6" ry="72.4" fill="none" stroke="#c4c2cc" stroke-width="1.2"/>
<g clip-path="url(#dc13)">
<ellipse cx="1722.8" cy="137.6" rx="72" ry="73.3" fill="#dbd9e2"/>
<g fill="#8070d8" opacity="0.35" filter="url(#fblur3)"><circle cx="1719" cy="205.6" r="7.4"/><circle cx="1758.6" cy="87.1" r="5.2"/><circle cx="1759.9" cy="187.7" r="7.7"/><circle cx="1767.3" cy="186" r="5.1"/><circle cx="1705.1" cy="200.2" r="8.2"/><circle cx="1676.8" cy="99.6" r="5.4"/><circle cx="1764.5" cy="193.6" r="8"/><circle cx="1746.4" cy="72.1" r="7.7"/><circle cx="1787.6" cy="115.9" r="5.3"/><circle cx="1760.8" cy="84.3" r="7.8"/><circle cx="1663.9" cy="112.1" r="5.8"/><circle cx="1666.1" cy="164.8" r="4.6"/><circle cx="1751.7" cy="74.7" r="8.9"/><circle cx="1699.1" cy="75.5" r="7.7"/><circle cx="1767" cy="188.6" r="6.2"/><circle cx="1750.1" cy="193.6" r="6.6"/><circle cx="1721.5" cy="203.1" r="7"/><circle cx="1674.8" cy="175.1" r="6.5"/><circle cx="1728.4" cy="200.2" r="5"/><circle cx="1682.8" cy="183" r="7.3"/></g>
<ellipse cx="1722.8" cy="138.6" rx="59.8" ry="60.8" fill="none" stroke="#6a62a0" stroke-width="0.8" opacity="0.7"/>
<ellipse cx="1722.8" cy="137.6" rx="69" ry="70.3" fill="none" stroke="#f4f4f8" stroke-width="2" opacity="0.7"/>
<g fill="#3a24cc" filter="url(#fblur1)"><circle cx="1783.6" cy="122.6" r="2.3"/><circle cx="1674.8" cy="179.3" r="2.7"/><circle cx="1741.4" cy="91.2" r="1.6"/><circle cx="1763.4" cy="97.1" r="2.7"/><circle cx="1706" cy="167.1" r="1.1"/><circle cx="1785.9" cy="151.7" r="2.4"/><circle cx="1684.2" cy="153.6" r="2"/><circle cx="1735" cy="118.4" r="2.4"/><circle cx="1701.6" cy="109.7" r="1.1"/><circle cx="1747.4" cy="84.7" r="1.2"/><circle cx="1665.1" cy="157.2" r="1.9"/><circle cx="1728.6" cy="74.7" r="1.6"/><circle cx="1701.8" cy="82.1" r="1"/><circle cx="1696.2" cy="106.1" r="2"/><circle cx="1666.2" cy="133.5" r="1.5"/><circle cx="1700.7" cy="137.1" r="3.1"/><circle cx="1725" cy="134.1" r="2.2"/><circle cx="1723" cy="193.6" r="2.4"/><circle cx="1690.4" cy="162.7" r="2.7"/><circle cx="1690.5" cy="149.6" r="1.5"/><circle cx="1688.6" cy="108.6" r="1.2"/><circle cx="1702.8" cy="74.6" r="1.6"/><circle cx="1667.5" cy="172.8" r="2"/><circle cx="1681.3" cy="135" r="1.9"/><circle cx="1700.4" cy="108.9" r="1.6"/><circle cx="1685.1" cy="110.8" r="1.5"/><circle cx="1704.2" cy="129.7" r="2.8"/><circle cx="1727.5" cy="87.1" r="2.6"/><circle cx="1699.1" cy="191.2" r="1.9"/><circle cx="1689.1" cy="187.8" r="1.1"/><circle cx="1720" cy="120.1" r="1.4"/><circle cx="1763.2" cy="98.6" r="2.3"/><circle cx="1745.1" cy="197" r="1.8"/><circle cx="1779.1" cy="129.5" r="2"/><circle cx="1739" cy="183.9" r="2.9"/><circle cx="1727.3" cy="180.2" r="1.9"/><circle cx="1695.7" cy="81.3" r="1"/><circle cx="1670.2" cy="167.1" r="2.8"/><circle cx="1712.7" cy="154.3" r="2.7"/><circle cx="1751.7" cy="109" r="2.5"/><circle cx="1670.5" cy="111.5" r="3.2"/><circle cx="1718.9" cy="105.9" r="2.5"/><circle cx="1716.1" cy="69.9" r="1"/><circle cx="1690.5" cy="114.7" r="3"/><circle cx="1689" cy="185.3" r="2.7"/><circle cx="1757.9" cy="135.4" r="1.3"/><circle cx="1717.6" cy="192.4" r="1.9"/><circle cx="1681.8" cy="120.6" r="1.7"/><circle cx="1681.4" cy="147.5" r="1"/><circle cx="1765.8" cy="93.8" r="1.1"/><circle cx="1734.7" cy="111.3" r="2.8"/><circle cx="1722.4" cy="140.5" r="2.7"/><circle cx="1684.5" cy="171.1" r="2.2"/><circle cx="1713.2" cy="200.2" r="1"/><circle cx="1768.3" cy="90.4" r="1"/><circle cx="1722.9" cy="195.7" r="1.3"/><circle cx="1721" cy="152.3" r="1.3"/><circle cx="1726.9" cy="70.7" r="1.7"/><circle cx="1757.6" cy="115.8" r="1.2"/><circle cx="1662.6" cy="164.9" r="1.6"/><circle cx="1778.3" cy="170.4" r="1.1"/><circle cx="1765.3" cy="182.8" r="2.2"/><circle cx="1752.4" cy="160.4" r="2"/><circle cx="1690.3" cy="87.6" r="2.4"/><circle cx="1735.7" cy="77.1" r="2.1"/><circle cx="1737.5" cy="139.2" r="2.5"/><circle cx="1773.2" cy="121.4" r="2.6"/><circle cx="1722.7" cy="147.4" r="1.6"/><circle cx="1780.8" cy="130" r="3"/><circle cx="1701.1" cy="161.1" r="2.9"/><circle cx="1747.4" cy="120.6" r="1"/><circle cx="1719.9" cy="125.9" r="2.6"/><circle cx="1715.8" cy="125.4" r="1.9"/><circle cx="1756.2" cy="80.3" r="1.2"/><circle cx="1675.4" cy="113.7" r="1.4"/><circle cx="1780.9" cy="109.6" r="1.2"/><circle cx="1664.8" cy="122.1" r="1.2"/><circle cx="1749.3" cy="76.2" r="1.2"/><circle cx="1731.6" cy="189.9" r="2.2"/><circle cx="1750.8" cy="164.9" r="2.6"/><circle cx="1770.1" cy="90.6" r="1"/><circle cx="1739" cy="140.2" r="1.8"/><circle cx="1760.5" cy="93.2" r="2.3"/><circle cx="1713" cy="126.9" r="1.3"/><circle cx="1693.5" cy="148.4" r="1.9"/><circle cx="1777.3" cy="107.6" r="2.3"/><circle cx="1668.8" cy="158.3" r="1.1"/><circle cx="1689.9" cy="179.6" r="1.2"/><circle cx="1696.7" cy="83.5" r="1.6"/><circle cx="1669.8" cy="165.5" r="2"/><circle cx="1712.1" cy="166.2" r="1.2"/><circle cx="1700.3" cy="119" r="1"/><circle cx="1669.4" cy="178.2" r="2.6"/><circle cx="1715.8" cy="126.9" r="1.1"/><circle cx="1656" cy="140.4" r="1.3"/><circle cx="1756.5" cy="171.2" r="1.1"/><circle cx="1755.2" cy="146.2" r="2.1"/><circle cx="1736.1" cy="174.4" r="1.8"/><circle cx="1729.7" cy="180.9" r="2.1"/><circle cx="1706.3" cy="72.2" r="2.5"/><circle cx="1701.4" cy="127.9" r="1.3"/><circle cx="1730.2" cy="124.1" r="2.7"/><circle cx="1735.4" cy="145.6" r="2.5"/><circle cx="1714.8" cy="142.6" r="2.4"/><circle cx="1752.6" cy="170.8" r="2.8"/><circle cx="1730.6" cy="145.1" r="1.2"/><circle cx="1688.1" cy="128.7" r="1.8"/><circle cx="1702.7" cy="170.3" r="1.7"/><circle cx="1769.5" cy="91.2" r="2.5"/><circle cx="1713.6" cy="146.8" r="1"/></g>
</g>
<ellipse cx="1722.8" cy="137.6" rx="71.4" ry="72.7" fill="none" stroke="#c4c2cc" stroke-width="1.2"/>
<g clip-path="url(#dc14)">
<ellipse cx="1871.5" cy="137.5" rx="75" ry="73" fill="#dbd9e2"/>
<g fill="#8070d8" opacity="0.35" filter="url(#fblur3)"><circle cx="1926.3" cy="179.8" r="7.3"/><circle cx="1931.8" cy="114.4" r="5.3"/><circle cx="1864.6" cy="70.3" r="5.5"/><circle cx="1844.9" cy="78.4" r="7.9"/><circle cx="1918.7" cy="179.8" r="8.5"/><circle cx="1830.9" cy="186.5" r="8"/><circle cx="1828.7" cy="92.2" r="6.8"/><circle cx="1838.8" cy="84.5" r="7.3"/><circle cx="1918.4" cy="182" r="4.4"/><circle cx="1892.2" cy="205.9" r="6"/><circle cx="1938.1" cy="133.6" r="7"/><circle cx="1920.1" cy="88.8" r="4.6"/><circle cx="1812.9" cy="101.8" r="4.9"/><circle cx="1931.1" cy="176.8" r="6.6"/><circle cx="1894.6" cy="198.6" r="5.1"/><circle cx="1891.6" cy="74.8" r="4.5"/><circle cx="1897.5" cy="82.1" r="5.4"/><circle cx="1940.8" cy="149.5" r="4.6"/><circle cx="1809.7" cy="127.7" r="6.4"/><circle cx="1844.7" cy="76.8" r="6.3"/><circle cx="1805.1" cy="143.7" r="7"/><circle cx="1927.1" cy="174.2" r="5.2"/><circle cx="1919.8" cy="84.5" r="4.3"/><circle cx="1915" cy="190.8" r="6.9"/><circle cx="1941" cy="145.7" r="8.7"/><circle cx="1813.3" cy="167.2" r="6.8"/><circle cx="1931.5" cy="114" r="5.5"/><circle cx="1897.4" cy="199.8" r="6.3"/><circle cx="1869" cy="201.8" r="4.2"/><circle cx="1843.5" cy="203.4" r="6.9"/><circle cx="1856.7" cy="206.8" r="5.8"/><circle cx="1870.9" cy="197.8" r="4.7"/><circle cx="1891.7" cy="196.9" r="8.4"/><circle cx="1865.6" cy="200" r="7"/><circle cx="1927.9" cy="106" r="7.8"/><circle cx="1825.2" cy="186.3" r="7"/><circle cx="1937.5" cy="113.1" r="6.5"/><circle cx="1907.3" cy="83.6" r="5.9"/><circle cx="1937.4" cy="121" r="7.9"/><circle cx="1842.9" cy="202.3" r="7.1"/><circle cx="1872.7" cy="208.3" r="6.3"/><circle cx="1837.1" cy="190.8" r="4.5"/><circle cx="1892.8" cy="202.2" r="4.7"/><circle cx="1867.8" cy="202.5" r="6.7"/><circle cx="1819.6" cy="184.6" r="5.3"/><circle cx="1826.3" cy="185.1" r="4.6"/><circle cx="1882.4" cy="198.1" r="7.6"/><circle cx="1913.6" cy="191.4" r="5.1"/></g>
<ellipse cx="1871.5" cy="138.5" rx="62.2" ry="60.6" fill="none" stroke="#6a62a0" stroke-width="0.8" opacity="0.7"/>
<ellipse cx="1871.5" cy="137.5" rx="72" ry="70" fill="none" stroke="#f4f4f8" stroke-width="2" opacity="0.7"/>
<g fill="#3a24cc" filter="url(#fblur1)"><circle cx="1892" cy="158.8" r="2"/><circle cx="1931.9" cy="158.8" r="2.6"/><circle cx="1808.2" cy="124.8" r="1.8"/><circle cx="1867.3" cy="196.3" r="3.6"/><circle cx="1810.4" cy="162" r="3.9"/><circle cx="1877.4" cy="82.7" r="3.7"/><circle cx="1861.2" cy="202.7" r="3.7"/><circle cx="1844.3" cy="88" r="2.1"/><circle cx="1864.5" cy="176.1" r="2.4"/><circle cx="1875.4" cy="109.8" r="4.1"/><circle cx="1836.4" cy="162.1" r="2.9"/><circle cx="1921.1" cy="123.6" r="2.2"/><circle cx="1850" cy="196.7" r="1.4"/><circle cx="1914.3" cy="165.5" r="4.1"/><circle cx="1874.8" cy="183" r="2.2"/><circle cx="1862.9" cy="148" r="3.4"/><circle cx="1860.7" cy="162" r="4.1"/><circle cx="1860.2" cy="96.7" r="1.4"/><circle cx="1922" cy="134.2" r="2.1"/><circle cx="1874.2" cy="86" r="1.7"/><circle cx="1834.6" cy="104.2" r="3.6"/><circle cx="1836.2" cy="81.9" r="3.7"/><circle cx="1879.6" cy="73.4" r="3"/><circle cx="1897.5" cy="157.8" r="3.3"/><circle cx="1860.9" cy="100.1" r="3.2"/><circle cx="1888.9" cy="165.2" r="1.6"/><circle cx="1853.7" cy="163.5" r="2.1"/><circle cx="1885.8" cy="133.8" r="3.2"/><circle cx="1850.3" cy="137.2" r="3.5"/><circle cx="1845.1" cy="93.5" r="2.8"/><circle cx="1840.1" cy="192.4" r="2.5"/><circle cx="1823.3" cy="140.4" r="3"/><circle cx="1869.6" cy="155.8" r="2"/><circle cx="1872.5" cy="78.6" r="1.5"/><circle cx="1883.8" cy="192.4" r="1.9"/><circle cx="1857.9" cy="134.2" r="2.7"/><circle cx="1850.6" cy="117.3" r="3.6"/><circle cx="1879.3" cy="117.5" r="3.5"/><circle cx="1829.5" cy="177.2" r="1.5"/><circle cx="1920.2" cy="100.3" r="2.1"/><circle cx="1884.7" cy="84.8" r="3.3"/><circle cx="1862.9" cy="174.2" r="3.3"/><circle cx="1916.3" cy="102.4" r="2.7"/><circle cx="1830.4" cy="142.7" r="3.2"/><circle cx="1854.3" cy="142" r="1.5"/><circle cx="1922.2" cy="154.7" r="3.5"/><circle cx="1813" cy="170.8" r="1.5"/><circle cx="1879.4" cy="100.9" r="3.8"/><circle cx="1816.6" cy="133.8" r="2.3"/><circle cx="1855.6" cy="78.4" r="2.9"/><circle cx="1937.3" cy="118.6" r="3.8"/><circle cx="1849" cy="106.7" r="2.3"/><circle cx="1890" cy="75" r="2.2"/><circle cx="1854.3" cy="102.7" r="1.5"/><circle cx="1873.1" cy="175.8" r="3.9"/><circle cx="1929.5" cy="127.5" r="1.6"/><circle cx="1936.2" cy="127.1" r="2"/><circle cx="1916.7" cy="145.4" r="4"/><circle cx="1899.6" cy="198" r="1.6"/><circle cx="1933.3" cy="143.1" r="3"/><circle cx="1843.7" cy="102.8" r="1.9"/><circle cx="1818.4" cy="102.6" r="2.8"/><circle cx="1830.3" cy="98.6" r="1.8"/><circle cx="1905" cy="159.1" r="1.9"/><circle cx="1927.2" cy="145.6" r="1.7"/><circle cx="1914.7" cy="180.5" r="1.4"/><circle cx="1919.9" cy="126.7" r="2.4"/><circle cx="1933.7" cy="130.9" r="1.7"/><circle cx="1865.2" cy="166.2" r="2.8"/><circle cx="1932.3" cy="138.1" r="3.8"/><circle cx="1844.5" cy="86.5" r="2.8"/><circle cx="1847.1" cy="127.2" r="1.8"/><circle cx="1846.8" cy="142.6" r="3.4"/><circle cx="1863" cy="129.9" r="3.9"/><circle cx="1855.7" cy="121.8" r="2.1"/><circle cx="1834.8" cy="165.2" r="1.8"/><circle cx="1872.8" cy="147.2" r="3.3"/><circle cx="1905" cy="135" r="4"/><circle cx="1901.4" cy="131.3" r="2"/><circle cx="1921.8" cy="133.9" r="3.2"/><circle cx="1855.8" cy="119.2" r="1.4"/><circle cx="1903.6" cy="109" r="2.4"/><circle cx="1903" cy="182.6" r="4"/><circle cx="1894.3" cy="101.2" r="3.9"/><circle cx="1809.3" cy="125.6" r="3.9"/><circle cx="1919.7" cy="150.3" r="3.7"/><circle cx="1843.1" cy="195.9" r="1.4"/><circle cx="1847.1" cy="138.6" r="1.7"/><circle cx="1858.7" cy="189.1" r="1.9"/><circle cx="1881.3" cy="178.8" r="2.8"/><circle cx="1877.3" cy="72.4" r="3.6"/><circle cx="1861.6" cy="153.9" r="1.4"/><circle cx="1891" cy="83.6" r="1.9"/><circle cx="1917.7" cy="174.1" r="1.9"/><circle cx="1859.6" cy="189.1" r="3"/><circle cx="1911.4" cy="139.2" r="3.3"/><circle cx="1871.3" cy="106.7" r="2.3"/><circle cx="1807.5" cy="161.1" r="1.9"/><circle cx="1826.9" cy="177.3" r="2.5"/><circle cx="1845.9" cy="194.9" r="3.9"/><circle cx="1861" cy="143.9" r="1.4"/><circle cx="1872.9" cy="204.5" r="1.4"/><circle cx="1812.3" cy="172.1" r="4.2"/><circle cx="1908" cy="151.8" r="2.1"/><circle cx="1855" cy="87.3" r="2.1"/><circle cx="1818.7" cy="179.6" r="2.5"/><circle cx="1854.4" cy="185.3" r="1.9"/><circle cx="1923.4" cy="167" r="2.8"/><circle cx="1884.7" cy="155.5" r="3.8"/><circle cx="1940.6" cy="145.5" r="4"/><circle cx="1835.9" cy="195.4" r="3.7"/><circle cx="1890.6" cy="84.6" r="3.7"/><circle cx="1854.6" cy="114.8" r="4"/><circle cx="1814" cy="157.2" r="1.7"/><circle cx="1923" cy="99" r="1.5"/><circle cx="1869.7" cy="131.7" r="3.2"/><circle cx="1840.9" cy="109.2" r="1.8"/><circle cx="1878.5" cy="87.5" r="2.6"/><circle cx="1916.2" cy="163" r="1.8"/><circle cx="1868.8" cy="82.4" r="2.3"/><circle cx="1892" cy="194.7" r="1.8"/><circle cx="1846.2" cy="162.1" r="1.6"/><circle cx="1839.3" cy="153.4" r="2.4"/><circle cx="1825.1" cy="96.5" r="2.4"/><circle cx="1922.8" cy="96.9" r="3"/><circle cx="1875.9" cy="107.4" r="2.1"/><circle cx="1878" cy="134.6" r="1.5"/><circle cx="1859.6" cy="92.7" r="2.1"/><circle cx="1806" cy="146.6" r="3.4"/><circle cx="1836.9" cy="178.3" r="2"/><circle cx="1901.5" cy="133.6" r="3.2"/><circle cx="1857.6" cy="199.9" r="2.3"/><circle cx="1913.2" cy="94.1" r="3.1"/><circle cx="1831.1" cy="125.1" r="2.1"/><circle cx="1894.6" cy="148" r="1.8"/><circle cx="1868.3" cy="87.3" r="1.5"/><circle cx="1882.4" cy="183.1" r="3.6"/><circle cx="1834.9" cy="164.5" r="2.6"/><circle cx="1897.9" cy="98.9" r="2.3"/><circle cx="1847.3" cy="200.3" r="2.6"/><circle cx="1899.3" cy="130.5" r="1.5"/><circle cx="1815.2" cy="100.2" r="3.2"/><circle cx="1830.1" cy="134.8" r="2"/><circle cx="1820.2" cy="119.9" r="2.4"/><circle cx="1862.4" cy="109.4" r="1.7"/><circle cx="1850.9" cy="141.7" r="4.1"/><circle cx="1857.1" cy="146.4" r="1.4"/><circle cx="1804.7" cy="144.8" r="1.4"/><circle cx="1916.6" cy="160.7" r="2.3"/><circle cx="1940.9" cy="135.2" r="4"/><circle cx="1859.9" cy="141.7" r="2.9"/><circle cx="1819.3" cy="165.9" r="1.8"/><circle cx="1863.5" cy="74.3" r="1.6"/><circle cx="1866.8" cy="105.1" r="1.6"/><circle cx="1840.8" cy="84.2" r="3.4"/><circle cx="1812.3" cy="152" r="3.6"/><circle cx="1856.8" cy="175.5" r="1.4"/><circle cx="1874.1" cy="170.5" r="2.2"/><circle cx="1915" cy="108.2" r="3.1"/><circle cx="1825.1" cy="153.2" r="3.1"/><circle cx="1885.3" cy="129.2" r="3.5"/><circle cx="1859.2" cy="79.2" r="1.6"/><circle cx="1822.6" cy="175.4" r="1.4"/><circle cx="1936.4" cy="147.9" r="1.5"/><circle cx="1834.4" cy="145.9" r="1.7"/><circle cx="1925.3" cy="99.7" r="1.7"/><circle cx="1826.3" cy="108.2" r="4"/><circle cx="1831" cy="94.5" r="1.4"/><circle cx="1900.4" cy="83.8" r="3.5"/><circle cx="1932.9" cy="107.2" r="2.3"/><circle cx="1913.7" cy="135.8" r="1.9"/><circle cx="1834.9" cy="184.1" r="1.4"/><circle cx="1916.9" cy="116.4" r="4.1"/><circle cx="1858.2" cy="138.1" r="3.3"/><circle cx="1835.4" cy="83.2" r="4"/><circle cx="1873.6" cy="97" r="1.9"/><circle cx="1838.6" cy="131" r="1.9"/><circle cx="1889.1" cy="98.8" r="3"/><circle cx="1929.3" cy="171.9" r="1.5"/><circle cx="1868.8" cy="180.9" r="1.5"/></g>
</g>
<ellipse cx="1871.5" cy="137.5" rx="74.4" ry="72.4" fill="none" stroke="#c4c2cc" stroke-width="1.2"/>
<g clip-path="url(#dc21)">
<ellipse cx="1423" cy="387.7" rx="73" ry="73.5" fill="#dcdbe1"/>
<ellipse cx="1423" cy="388.7" rx="63.1" ry="63.6" fill="none" stroke="#4a3a9a" stroke-width="1.1" opacity="0.7"/>
<g fill="#8880a0" opacity="0.6"><circle cx="1447.7" cy="429.7" r="0.7"/><circle cx="1396.1" cy="391.3" r="0.7"/><circle cx="1437.9" cy="348.4" r="0.6"/><circle cx="1423.3" cy="391" r="0.5"/><circle cx="1409.8" cy="379.8" r="0.7"/><circle cx="1426.1" cy="415.9" r="0.4"/><circle cx="1473.2" cy="386.9" r="0.8"/><circle cx="1415" cy="380.5" r="0.5"/><circle cx="1403.1" cy="388" r="0.8"/><circle cx="1407.4" cy="404.7" r="0.7"/><circle cx="1462.8" cy="427.7" r="0.6"/><circle cx="1390.6" cy="376.6" r="0.6"/><circle cx="1427.3" cy="398.2" r="0.7"/><circle cx="1427.9" cy="439.4" r="0.5"/><circle cx="1477.2" cy="376.9" r="0.7"/><circle cx="1426.6" cy="343" r="0.7"/><circle cx="1451.9" cy="415.9" r="0.7"/><circle cx="1440" cy="441.5" r="0.8"/><circle cx="1393.2" cy="406.8" r="0.6"/><circle cx="1379.1" cy="426.3" r="0.6"/><circle cx="1440.6" cy="390.7" r="0.7"/><circle cx="1464.1" cy="385.8" r="0.6"/><circle cx="1375" cy="371.9" r="0.5"/><circle cx="1389.2" cy="360" r="0.6"/><circle cx="1433.2" cy="409.7" r="0.5"/><circle cx="1453.8" cy="372.4" r="0.6"/><circle cx="1416.5" cy="405.4" r="0.4"/><circle cx="1443.1" cy="340" r="0.5"/><circle cx="1403.5" cy="343.5" r="0.8"/><circle cx="1459" cy="378" r="0.8"/><circle cx="1466.6" cy="376.9" r="0.8"/><circle cx="1387.3" cy="389.8" r="0.5"/><circle cx="1439.8" cy="371.1" r="0.4"/><circle cx="1440.5" cy="339.1" r="0.6"/><circle cx="1429.9" cy="376.2" r="0.5"/><circle cx="1413.6" cy="424.6" r="0.5"/><circle cx="1453.8" cy="402.2" r="0.8"/><circle cx="1473.2" cy="382.4" r="0.6"/><circle cx="1422.2" cy="445.3" r="0.6"/><circle cx="1421.7" cy="377.9" r="0.5"/><circle cx="1450.4" cy="343.1" r="0.8"/><circle cx="1392.4" cy="364.9" r="0.6"/><circle cx="1441.9" cy="361.2" r="0.6"/><circle cx="1414.7" cy="438.6" r="0.4"/><circle cx="1400.4" cy="334.9" r="0.4"/><circle cx="1384" cy="361.5" r="0.7"/><circle cx="1397.4" cy="372.6" r="0.6"/><circle cx="1476.7" cy="373.3" r="0.5"/><circle cx="1437.8" cy="397.8" r="0.4"/><circle cx="1402.3" cy="394.9" r="0.7"/><circle cx="1411.4" cy="370.4" r="0.6"/><circle cx="1404.5" cy="424.6" r="0.5"/><circle cx="1435.6" cy="409.5" r="0.6"/><circle cx="1412.2" cy="345.5" r="0.4"/><circle cx="1409.7" cy="334.4" r="0.7"/><circle cx="1424.3" cy="382.7" r="0.6"/><circle cx="1470" cy="407.7" r="0.5"/><circle cx="1416" cy="359" r="0.7"/><circle cx="1418.3" cy="398.8" r="0.6"/><circle cx="1402.8" cy="439.7" r="0.5"/><circle cx="1379.7" cy="386.8" r="0.8"/><circle cx="1459.9" cy="414.2" r="0.6"/><circle cx="1417.4" cy="330.1" r="0.5"/><circle cx="1409.8" cy="347.2" r="0.6"/><circle cx="1471.5" cy="408.4" r="0.8"/><circle cx="1402.8" cy="413.9" r="0.8"/><circle cx="1435.6" cy="397.9" r="0.4"/><circle cx="1443" cy="340.6" r="0.6"/><circle cx="1417.1" cy="382" r="0.7"/><circle cx="1383.7" cy="402.6" r="0.6"/><circle cx="1400.4" cy="403.9" r="0.4"/><circle cx="1396.4" cy="399.5" r="0.7"/><circle cx="1443.4" cy="342.1" r="0.6"/><circle cx="1426.1" cy="424.1" r="0.6"/><circle cx="1384.2" cy="345.2" r="0.4"/><circle cx="1382.4" cy="392.9" r="0.7"/><circle cx="1462.8" cy="354.7" r="0.7"/><circle cx="1425.6" cy="339.7" r="0.7"/><circle cx="1407.8" cy="341.6" r="0.5"/><circle cx="1454.4" cy="369.4" r="0.6"/></g>
<ellipse cx="1423" cy="387.7" rx="70" ry="70.5" fill="none" stroke="#f4f4f8" stroke-width="2" opacity="0.7"/>
<g fill="#3a24cc" filter="url(#fblur1)"><circle cx="1446.8" cy="340.6" r="1.7"/><circle cx="1440.6" cy="388.4" r="0.7"/><circle cx="1414.1" cy="395" r="1"/><circle cx="1438.2" cy="396" r="1.6"/><circle cx="1421.9" cy="364.9" r="0.5"/><circle cx="1453.6" cy="379" r="0.6"/><circle cx="1408.1" cy="413" r="1.2"/><circle cx="1419.6" cy="438" r="0.7"/><circle cx="1422" cy="427.3" r="0.6"/><circle cx="1417.3" cy="375.3" r="1.1"/><circle cx="1419.6" cy="407.4" r="1.6"/><circle cx="1401.6" cy="392.2" r="1.1"/><circle cx="1420.6" cy="400.2" r="0.8"/><circle cx="1421.2" cy="400.8" r="1.6"/><circle cx="1459.3" cy="395.7" r="1.6"/><circle cx="1421.9" cy="383.8" r="0.9"/><circle cx="1450" cy="394.6" r="1.2"/><circle cx="1423.2" cy="390.2" r="1"/><circle cx="1437.5" cy="397.6" r="0.9"/><circle cx="1438.4" cy="375.6" r="0.6"/><circle cx="1432.8" cy="350.9" r="1"/><circle cx="1435.5" cy="391.7" r="0.8"/><circle cx="1409.2" cy="383" r="1.4"/><circle cx="1448.7" cy="348.8" r="1.5"/><circle cx="1449.7" cy="390.7" r="0.5"/><circle cx="1450.3" cy="367.7" r="1.3"/><circle cx="1425.7" cy="394.4" r="1.4"/><circle cx="1400.8" cy="370" r="0.9"/><circle cx="1428.7" cy="370" r="0.7"/><circle cx="1412.7" cy="401.5" r="1.1"/><circle cx="1429" cy="382.7" r="0.5"/><circle cx="1392.4" cy="385.4" r="0.6"/><circle cx="1422.1" cy="394.8" r="0.5"/><circle cx="1392.2" cy="388.7" r="1.1"/><circle cx="1428.2" cy="395.8" r="1.6"/><circle cx="1402.7" cy="382.7" r="1.2"/><circle cx="1419.5" cy="362.9" r="0.5"/><circle cx="1429.6" cy="375.1" r="0.5"/><circle cx="1407.9" cy="407.9" r="1.1"/><circle cx="1437.7" cy="416.4" r="0.9"/><circle cx="1443.9" cy="421.8" r="1.4"/><circle cx="1448.6" cy="370.5" r="0.6"/><circle cx="1430.6" cy="344.1" r="1"/><circle cx="1468.3" cy="358.1" r="0.8"/><circle cx="1467.7" cy="370.5" r="1.3"/><circle cx="1441.9" cy="389" r="1.1"/><circle cx="1396.3" cy="366.2" r="1.1"/><circle cx="1447.9" cy="427.9" r="1"/><circle cx="1433.2" cy="378.3" r="1.7"/><circle cx="1389.9" cy="375.7" r="1.3"/><circle cx="1437.3" cy="374.6" r="0.5"/><circle cx="1412.4" cy="394.9" r="1"/><circle cx="1430.7" cy="369.8" r="0.6"/><circle cx="1444.1" cy="391.3" r="1"/><circle cx="1452.7" cy="392.7" r="0.6"/><circle cx="1459.5" cy="417" r="1"/><circle cx="1442.3" cy="372.6" r="0.6"/><circle cx="1424.3" cy="409.2" r="1.1"/><circle cx="1427.4" cy="353.8" r="1.1"/><circle cx="1422.6" cy="409.4" r="0.8"/><circle cx="1407" cy="388.8" r="1"/><circle cx="1417.7" cy="389.1" r="1.4"/><circle cx="1391.6" cy="368.6" r="1.3"/><circle cx="1408.4" cy="402" r="0.5"/><circle cx="1409.2" cy="364.5" r="1"/><circle cx="1436.5" cy="387.5" r="0.6"/><circle cx="1419.3" cy="350.4" r="0.9"/><circle cx="1441.4" cy="394.4" r="1.4"/><circle cx="1400.3" cy="387.7" r="0.8"/><circle cx="1404" cy="367.7" r="1.2"/><circle cx="1445.5" cy="362.1" r="0.8"/><circle cx="1422.9" cy="423.5" r="1.3"/><circle cx="1435.2" cy="381.7" r="1.4"/><circle cx="1429.3" cy="382.5" r="0.7"/><circle cx="1415.4" cy="379.1" r="1.4"/><circle cx="1420.1" cy="418.6" r="0.7"/><circle cx="1425.8" cy="401.4" r="0.9"/><circle cx="1419.7" cy="373.7" r="1.2"/><circle cx="1408" cy="413.2" r="0.8"/><circle cx="1426.9" cy="398.3" r="0.5"/><circle cx="1416" cy="367.7" r="0.6"/><circle cx="1444.7" cy="367.3" r="0.5"/><circle cx="1418.7" cy="360.5" r="0.9"/><circle cx="1370.9" cy="387.5" r="0.8"/><circle cx="1404" cy="365.7" r="0.8"/><circle cx="1403.6" cy="416" r="1.1"/><circle cx="1399.4" cy="394.3" r="0.6"/><circle cx="1424" cy="383.7" r="1.1"/><circle cx="1409.2" cy="391.8" r="1"/><circle cx="1415.5" cy="383.3" r="0.9"/><circle cx="1441.6" cy="419.3" r="0.7"/><circle cx="1416.3" cy="400.3" r="0.5"/><circle cx="1427.5" cy="398.5" r="1.1"/><circle cx="1431.3" cy="375.8" r="0.5"/><circle cx="1413.1" cy="385.5" r="0.8"/><circle cx="1423.9" cy="373.9" r="1.2"/><circle cx="1414.7" cy="385.6" r="0.6"/><circle cx="1415.6" cy="382.3" r="0.6"/><circle cx="1389.7" cy="370.1" r="1"/><circle cx="1421.6" cy="385.3" r="0.7"/><circle cx="1404.3" cy="429" r="0.8"/><circle cx="1424.2" cy="382.4" r="0.9"/><circle cx="1450.2" cy="365.5" r="1"/><circle cx="1442.2" cy="430.3" r="0.5"/><circle cx="1457.4" cy="379.9" r="1.2"/><circle cx="1411" cy="385.4" r="0.7"/><circle cx="1407.7" cy="362" r="0.8"/><circle cx="1425.1" cy="381.3" r="0.7"/><circle cx="1438.2" cy="397.5" r="1.3"/><circle cx="1423.3" cy="376" r="0.7"/></g>
</g>
<ellipse cx="1423" cy="387.7" rx="72.4" ry="72.9" fill="none" stroke="#c4c2cc" stroke-width="1.2"/>
<g clip-path="url(#dc22)">
<ellipse cx="1571" cy="387.7" rx="73" ry="73.5" fill="#dddce1"/>
<ellipse cx="1571" cy="388.7" rx="63.1" ry="63.6" fill="none" stroke="#8a80b8" stroke-width="1" opacity="0.7"/>
<g fill="#8880a0" opacity="0.6"><circle cx="1592.1" cy="382" r="0.4"/><circle cx="1596.1" cy="387.5" r="0.4"/><circle cx="1551.1" cy="359.6" r="0.8"/><circle cx="1577.5" cy="444.9" r="0.5"/><circle cx="1525.6" cy="354" r="0.7"/><circle cx="1614.6" cy="364.9" r="0.4"/><circle cx="1604" cy="357.1" r="0.5"/><circle cx="1590.8" cy="438.1" r="0.6"/><circle cx="1618.5" cy="368.1" r="0.8"/><circle cx="1526.4" cy="367.8" r="0.6"/><circle cx="1568" cy="445.1" r="0.5"/><circle cx="1582.1" cy="331.3" r="0.7"/><circle cx="1604.2" cy="429.3" r="0.7"/><circle cx="1576.1" cy="399.7" r="0.6"/><circle cx="1626" cy="399.1" r="0.6"/><circle cx="1533.9" cy="383.6" r="0.7"/><circle cx="1599" cy="371.4" r="0.5"/><circle cx="1543.3" cy="371.8" r="0.6"/><circle cx="1534" cy="377.3" r="0.7"/><circle cx="1553.9" cy="384.6" r="0.8"/><circle cx="1547.3" cy="418.1" r="0.6"/><circle cx="1622.5" cy="363.1" r="0.6"/><circle cx="1556.3" cy="398.4" r="0.8"/><circle cx="1591.5" cy="426" r="0.5"/><circle cx="1554.5" cy="418.7" r="0.5"/><circle cx="1612.6" cy="397.6" r="0.7"/><circle cx="1555.2" cy="366.6" r="0.7"/><circle cx="1606.4" cy="399.8" r="0.7"/><circle cx="1605.9" cy="368.7" r="0.7"/><circle cx="1528.7" cy="388.1" r="0.6"/><circle cx="1621.3" cy="384.9" r="0.6"/><circle cx="1564.3" cy="341" r="0.5"/><circle cx="1582.3" cy="335.7" r="0.6"/><circle cx="1578.4" cy="384.9" r="0.6"/><circle cx="1548.4" cy="362" r="0.5"/><circle cx="1557.3" cy="351.5" r="0.5"/><circle cx="1626.5" cy="402.7" r="0.5"/><circle cx="1591" cy="406.2" r="0.5"/><circle cx="1587.6" cy="369.1" r="0.5"/><circle cx="1603.8" cy="410.8" r="0.5"/><circle cx="1543.1" cy="429.5" r="0.8"/><circle cx="1576.8" cy="377.8" r="0.6"/><circle cx="1577.2" cy="379" r="0.5"/><circle cx="1535" cy="390" r="0.7"/><circle cx="1563.1" cy="348.4" r="0.5"/><circle cx="1574.6" cy="417.8" r="0.4"/><circle cx="1559.3" cy="367.5" r="0.8"/><circle cx="1562.5" cy="376.6" r="0.6"/><circle cx="1561.5" cy="380.4" r="0.6"/><circle cx="1621.2" cy="397.3" r="0.4"/><circle cx="1531.8" cy="344.7" r="0.7"/><circle cx="1575.5" cy="430.5" r="0.5"/><circle cx="1541.3" cy="433.4" r="0.7"/><circle cx="1606.9" cy="389.8" r="0.7"/><circle cx="1594.6" cy="434.7" r="0.8"/><circle cx="1537.7" cy="376.5" r="0.7"/><circle cx="1545.7" cy="385.6" r="0.5"/><circle cx="1599.9" cy="433" r="0.6"/><circle cx="1553.6" cy="337.5" r="0.8"/><circle cx="1584.6" cy="422.6" r="0.7"/><circle cx="1573.7" cy="351.2" r="0.7"/><circle cx="1579" cy="409.9" r="0.4"/><circle cx="1550.4" cy="407.3" r="0.6"/><circle cx="1593.4" cy="383.3" r="0.6"/><circle cx="1600.8" cy="353.5" r="0.6"/><circle cx="1572" cy="379.1" r="0.8"/><circle cx="1550.6" cy="339" r="0.7"/><circle cx="1583.3" cy="396.5" r="0.5"/><circle cx="1514.5" cy="386" r="0.8"/><circle cx="1531.8" cy="412.1" r="0.7"/><circle cx="1542.5" cy="438" r="0.8"/><circle cx="1563" cy="332.5" r="0.7"/><circle cx="1551.9" cy="360.5" r="0.5"/><circle cx="1572" cy="401.7" r="0.8"/><circle cx="1568.3" cy="396.4" r="0.5"/><circle cx="1602.1" cy="411.4" r="0.5"/><circle cx="1589.2" cy="423.9" r="0.6"/><circle cx="1539" cy="429.8" r="0.5"/><circle cx="1518.1" cy="373.6" r="0.8"/><circle cx="1562.7" cy="396.1" r="0.8"/></g>
<ellipse cx="1571" cy="387.7" rx="70" ry="70.5" fill="none" stroke="#f4f4f8" stroke-width="2" opacity="0.7"/>
<g fill="#3a24cc" filter="url(#fblur1)"><circle cx="1554.4" cy="386.2" r="0.5"/><circle cx="1572.4" cy="408.3" r="0.5"/><circle cx="1576" cy="377.1" r="0.8"/><circle cx="1579.9" cy="360.8" r="0.5"/><circle cx="1558.6" cy="407.5" r="1.3"/><circle cx="1548.2" cy="374.5" r="1"/><circle cx="1605.5" cy="398.7" r="1.2"/><circle cx="1560.3" cy="367.8" r="0.6"/><circle cx="1580.8" cy="388.3" r="0.6"/><circle cx="1531.5" cy="399.7" r="0.6"/><circle cx="1537.7" cy="393.6" r="0.9"/><circle cx="1624" cy="394.6" r="0.9"/><circle cx="1565.2" cy="404.4" r="1"/><circle cx="1590.7" cy="378.8" r="0.7"/><circle cx="1557.2" cy="382.5" r="0.7"/><circle cx="1597.3" cy="372.6" r="1.2"/><circle cx="1567.4" cy="435.8" r="1.1"/><circle cx="1575.5" cy="416.7" r="1"/><circle cx="1542.1" cy="373.3" r="0.6"/><circle cx="1550" cy="380.3" r="1.1"/><circle cx="1556.1" cy="379.4" r="0.7"/><circle cx="1597.9" cy="415.9" r="0.5"/><circle cx="1554.9" cy="375.1" r="1.1"/><circle cx="1596.1" cy="413.5" r="1"/><circle cx="1572.3" cy="400.3" r="0.7"/><circle cx="1560" cy="372.7" r="0.5"/><circle cx="1530.7" cy="403.4" r="0.6"/><circle cx="1597.4" cy="377.3" r="0.6"/><circle cx="1589.5" cy="401.2" r="0.8"/><circle cx="1575.5" cy="396.7" r="0.8"/><circle cx="1570.3" cy="413.6" r="0.8"/><circle cx="1560.9" cy="358" r="0.6"/><circle cx="1591.1" cy="430.5" r="0.5"/><circle cx="1577.5" cy="394.1" r="1.2"/><circle cx="1518.9" cy="373.9" r="0.9"/><circle cx="1558.1" cy="409.5" r="1.1"/><circle cx="1576" cy="430.5" r="0.7"/><circle cx="1592" cy="393.4" r="0.9"/><circle cx="1602.2" cy="429.1" r="1.3"/><circle cx="1519.6" cy="384" r="1"/><circle cx="1557.5" cy="384.4" r="1.3"/><circle cx="1593.8" cy="375" r="0.7"/><circle cx="1600.5" cy="402.5" r="1.2"/><circle cx="1556" cy="400.4" r="0.9"/><circle cx="1574.9" cy="373.6" r="0.6"/><circle cx="1566.7" cy="382.3" r="1.2"/><circle cx="1553" cy="429.1" r="0.8"/><circle cx="1573.4" cy="391.8" r="0.5"/><circle cx="1568.4" cy="427.9" r="1.1"/><circle cx="1557.2" cy="372.7" r="1"/><circle cx="1568.5" cy="364.9" r="0.5"/><circle cx="1554.5" cy="391" r="0.6"/><circle cx="1563.8" cy="393.7" r="1.3"/><circle cx="1561.2" cy="437.9" r="1.1"/><circle cx="1621.8" cy="391.2" r="1.2"/><circle cx="1522.3" cy="379.8" r="0.8"/><circle cx="1584.4" cy="389.8" r="0.7"/><circle cx="1599.1" cy="352.7" r="0.5"/><circle cx="1564.2" cy="397.1" r="0.6"/><circle cx="1556.3" cy="407.5" r="0.6"/><circle cx="1561.3" cy="372.8" r="1.3"/><circle cx="1546" cy="390.7" r="1.1"/><circle cx="1560.7" cy="402.9" r="0.5"/><circle cx="1566.2" cy="404.5" r="1.1"/><circle cx="1548.2" cy="417.3" r="0.6"/><circle cx="1589.3" cy="396.4" r="0.7"/><circle cx="1584.4" cy="379.2" r="0.6"/><circle cx="1581.1" cy="402.9" r="1.3"/><circle cx="1586.5" cy="380.6" r="0.5"/><circle cx="1539.6" cy="390.4" r="0.5"/><circle cx="1535.6" cy="407.8" r="0.5"/><circle cx="1563.9" cy="352" r="1.1"/><circle cx="1544.6" cy="389.9" r="0.8"/><circle cx="1589.7" cy="409.4" r="0.6"/><circle cx="1567.9" cy="394.2" r="0.6"/><circle cx="1598.9" cy="397.9" r="0.6"/><circle cx="1544.6" cy="378" r="0.6"/><circle cx="1593.3" cy="410.8" r="1"/><circle cx="1560.6" cy="361.2" r="0.9"/><circle cx="1591.1" cy="390.8" r="1.1"/><circle cx="1563" cy="395.5" r="0.7"/><circle cx="1576.4" cy="378.3" r="0.5"/><circle cx="1522.8" cy="388.2" r="0.7"/><circle cx="1571.5" cy="428.6" r="0.5"/><circle cx="1562" cy="418.7" r="1.2"/><circle cx="1584.6" cy="371.4" r="0.6"/><circle cx="1563.1" cy="396.9" r="0.6"/><circle cx="1569.8" cy="396.9" r="1.1"/><circle cx="1612.3" cy="378.7" r="0.7"/><circle cx="1569.5" cy="347.3" r="1.1"/></g>
</g>
<ellipse cx="1571" cy="387.7" rx="72.4" ry="72.9" fill="none" stroke="#c4c2cc" stroke-width="1.2"/>
<g clip-path="url(#dc23)">
<ellipse cx="1715.3" cy="388" rx="70.7" ry="73.5" fill="#dddce1"/>
<path d="M1717.6 320.4A65 67.6 0 0 1 1778.9 402.1" fill="none" stroke="#8a78e0" stroke-width="10" opacity="0.5" filter="url(#fblur1)"/>
<path d="M1717.4 324.1A61.5 63.9 0 0 1 1775.5 401.3" fill="none" stroke="#6a58d0" stroke-width="0.7" opacity="0.5"/>
<path d="M1717.5 321.9A63.6 66.2 0 0 1 1777.5 401.8" fill="none" stroke="#6a58d0" stroke-width="0.7" opacity="0.5"/>
<path d="M1717.6 319.7A65.8 68.4 0 0 1 1779.6 402.2" fill="none" stroke="#6a58d0" stroke-width="0.7" opacity="0.5"/>
<path d="M1717.7 317.5A67.9 70.6 0 0 1 1781.7 402.7" fill="none" stroke="#6a58d0" stroke-width="0.7" opacity="0.5"/>
<ellipse cx="1715.3" cy="389" rx="61.2" ry="63.6" fill="none" stroke="#8a80b8" stroke-width="1" opacity="0.7"/>
<g fill="#8880a0" opacity="0.6"><circle cx="1764.4" cy="362" r="0.8"/><circle cx="1753" cy="410.7" r="0.6"/><circle cx="1695.2" cy="384" r="0.5"/><circle cx="1690.3" cy="397.4" r="0.6"/><circle cx="1731.7" cy="390.7" r="0.7"/><circle cx="1679.7" cy="408" r="0.7"/><circle cx="1706.7" cy="398.9" r="0.7"/><circle cx="1676.4" cy="362.7" r="0.6"/><circle cx="1748.8" cy="381.5" r="0.7"/><circle cx="1686.3" cy="420.7" r="0.7"/><circle cx="1708.8" cy="403.8" r="0.6"/><circle cx="1706.6" cy="343.7" r="0.6"/><circle cx="1700.2" cy="368.4" r="0.5"/><circle cx="1692.6" cy="435.6" r="0.5"/><circle cx="1728.7" cy="400.1" r="0.4"/><circle cx="1708.5" cy="431.9" r="0.7"/><circle cx="1698.6" cy="419.2" r="0.5"/><circle cx="1698.5" cy="436.8" r="0.6"/><circle cx="1714.3" cy="407.2" r="0.7"/><circle cx="1701.6" cy="336.4" r="0.5"/><circle cx="1663.3" cy="372.1" r="0.6"/><circle cx="1737.1" cy="379.9" r="0.8"/><circle cx="1749.6" cy="401.1" r="0.4"/><circle cx="1732.4" cy="342.6" r="0.8"/><circle cx="1734" cy="334.1" r="0.6"/><circle cx="1764.1" cy="384.2" r="0.5"/><circle cx="1749.6" cy="382.2" r="0.5"/><circle cx="1749.6" cy="406.4" r="0.5"/><circle cx="1765.7" cy="364.8" r="0.5"/><circle cx="1748" cy="413.9" r="0.5"/><circle cx="1666.2" cy="373.6" r="0.5"/><circle cx="1668" cy="414.3" r="0.6"/><circle cx="1685.9" cy="434.4" r="0.7"/><circle cx="1752.4" cy="358.2" r="0.6"/><circle cx="1697.2" cy="337.8" r="0.7"/><circle cx="1717.5" cy="419.9" r="0.6"/><circle cx="1721" cy="344.5" r="0.6"/><circle cx="1723.9" cy="370.8" r="0.7"/><circle cx="1694.3" cy="426.2" r="0.7"/><circle cx="1715.9" cy="445.4" r="0.4"/><circle cx="1676.8" cy="371.6" r="0.5"/><circle cx="1679.3" cy="372.9" r="0.6"/><circle cx="1714.6" cy="384.4" r="0.6"/><circle cx="1720" cy="366.4" r="0.7"/><circle cx="1728.7" cy="434.5" r="0.5"/><circle cx="1680.4" cy="400" r="0.4"/><circle cx="1703.1" cy="349.3" r="0.7"/><circle cx="1674.4" cy="377.3" r="0.6"/><circle cx="1699.4" cy="441.2" r="0.4"/><circle cx="1752.8" cy="349.8" r="0.6"/><circle cx="1723.1" cy="340.4" r="0.6"/><circle cx="1707" cy="420.1" r="0.5"/><circle cx="1697.5" cy="442.5" r="0.5"/><circle cx="1687.4" cy="412.7" r="0.7"/><circle cx="1673.6" cy="394.1" r="0.5"/><circle cx="1712.3" cy="405.3" r="0.5"/><circle cx="1710.7" cy="442.1" r="0.6"/><circle cx="1744.9" cy="413.6" r="0.4"/><circle cx="1680.9" cy="372.2" r="0.7"/><circle cx="1712.3" cy="442.1" r="0.5"/><circle cx="1760.1" cy="382.9" r="0.4"/><circle cx="1725.7" cy="359.1" r="0.5"/><circle cx="1746.6" cy="430.8" r="0.4"/><circle cx="1712.7" cy="351.1" r="0.7"/><circle cx="1711.1" cy="403.9" r="0.8"/><circle cx="1702.2" cy="368" r="0.8"/><circle cx="1735.9" cy="374.8" r="0.4"/><circle cx="1699.1" cy="373.9" r="0.7"/><circle cx="1668.6" cy="397.6" r="0.6"/><circle cx="1722" cy="335.2" r="0.6"/></g>
<ellipse cx="1715.3" cy="388" rx="67.7" ry="70.5" fill="none" stroke="#f4f4f8" stroke-width="2" opacity="0.7"/>
<g fill="#3a24cc" filter="url(#fblur1)"><circle cx="1699.1" cy="377.1" r="0.5"/><circle cx="1751.1" cy="412.4" r="0.6"/><circle cx="1698.3" cy="396.8" r="1"/><circle cx="1673.3" cy="378.7" r="0.8"/><circle cx="1694.9" cy="413" r="1.1"/><circle cx="1732" cy="379.2" r="1.3"/><circle cx="1729.9" cy="404" r="1.2"/><circle cx="1718.3" cy="382.4" r="0.7"/><circle cx="1709.4" cy="350.5" r="0.9"/><circle cx="1720.7" cy="410.3" r="0.5"/><circle cx="1706.1" cy="409.8" r="1.2"/><circle cx="1696.3" cy="375.6" r="0.6"/><circle cx="1702.4" cy="418.8" r="0.8"/><circle cx="1734" cy="425.1" r="0.9"/><circle cx="1741.6" cy="382.3" r="1"/><circle cx="1688.6" cy="401.6" r="1.4"/><circle cx="1747" cy="384.1" r="0.8"/><circle cx="1753.7" cy="404.6" r="0.7"/><circle cx="1709.8" cy="393.2" r="0.5"/><circle cx="1669.8" cy="426.8" r="1.1"/><circle cx="1707" cy="355.6" r="0.6"/><circle cx="1729.7" cy="414.7" r="0.5"/><circle cx="1693.1" cy="373.7" r="0.9"/><circle cx="1721.2" cy="393.8" r="0.8"/><circle cx="1734.3" cy="413.6" r="0.7"/><circle cx="1689.1" cy="362.2" r="1"/><circle cx="1701.2" cy="385.1" r="0.7"/><circle cx="1732.3" cy="385.5" r="0.7"/><circle cx="1688.1" cy="389.2" r="1.2"/><circle cx="1699.7" cy="443.6" r="0.5"/><circle cx="1722.4" cy="359.6" r="1.4"/><circle cx="1734.3" cy="416.3" r="1.4"/><circle cx="1710" cy="378.4" r="1.4"/><circle cx="1725.6" cy="385.9" r="1.3"/><circle cx="1723.1" cy="392.4" r="1.2"/><circle cx="1705.1" cy="332.4" r="1"/><circle cx="1698.1" cy="386.7" r="0.9"/><circle cx="1746.6" cy="386.5" r="1.3"/><circle cx="1726.8" cy="422.8" r="1.1"/><circle cx="1751.6" cy="406" r="0.6"/><circle cx="1716.9" cy="395.8" r="1"/><circle cx="1752.3" cy="436" r="0.5"/><circle cx="1728.7" cy="352.6" r="0.9"/><circle cx="1680.4" cy="370.4" r="1"/><circle cx="1740.1" cy="418.9" r="0.7"/><circle cx="1692.8" cy="374.4" r="1.4"/><circle cx="1678.8" cy="410.7" r="0.5"/><circle cx="1700.4" cy="417.8" r="1"/><circle cx="1722.6" cy="374.6" r="1.2"/><circle cx="1718.7" cy="376" r="0.6"/><circle cx="1664.1" cy="357.3" r="1"/><circle cx="1692.1" cy="399.7" r="1.2"/><circle cx="1688.6" cy="384.1" r="1"/><circle cx="1750.8" cy="371.2" r="1.3"/><circle cx="1712.3" cy="418.4" r="1.2"/><circle cx="1704.7" cy="333.6" r="1.4"/><circle cx="1733.3" cy="407.3" r="0.7"/><circle cx="1722.4" cy="413.5" r="1.5"/><circle cx="1716.4" cy="377.8" r="0.6"/><circle cx="1684.5" cy="422.3" r="0.8"/><circle cx="1730.1" cy="412" r="0.6"/><circle cx="1743.5" cy="395.2" r="1.5"/><circle cx="1721" cy="351.7" r="0.6"/><circle cx="1686.7" cy="375.9" r="1.2"/><circle cx="1708.5" cy="390.5" r="1.4"/><circle cx="1711.8" cy="424.8" r="0.8"/><circle cx="1718.9" cy="367.9" r="0.5"/><circle cx="1693" cy="399.3" r="1.2"/><circle cx="1688.8" cy="407" r="0.7"/><circle cx="1713.8" cy="374.1" r="1.3"/></g>
</g>
<ellipse cx="1715.3" cy="388" rx="70.1" ry="72.9" fill="none" stroke="#c4c2cc" stroke-width="1.2"/>
<g clip-path="url(#dc24)">
<ellipse cx="1859.7" cy="387.7" rx="72.7" ry="73" fill="#dcdbe1"/>
<path d="M1792.9 390A66.9 67.2 0 0 1 1926.5 390" fill="none" stroke="#8a78e0" stroke-width="10" opacity="0.5" filter="url(#fblur1)"/>
<path d="M1796.5 389.9A63.2 63.5 0 0 1 1922.9 389.9" fill="none" stroke="#6a58d0" stroke-width="0.7" opacity="0.5"/>
<path d="M1794.3 390A65.4 65.7 0 0 1 1925.1 390" fill="none" stroke="#6a58d0" stroke-width="0.7" opacity="0.5"/>
<path d="M1792.1 390.1A67.6 67.9 0 0 1 1927.3 390.1" fill="none" stroke="#6a58d0" stroke-width="0.7" opacity="0.5"/>
<path d="M1790 390.1A69.8 70.1 0 0 1 1929.4 390.1" fill="none" stroke="#6a58d0" stroke-width="0.7" opacity="0.5"/>
<ellipse cx="1859.7" cy="388.7" rx="62.9" ry="63.1" fill="none" stroke="#8a80b8" stroke-width="1" opacity="0.7"/>
<g fill="#8880a0" opacity="0.6"><circle cx="1847.2" cy="335.7" r="0.5"/><circle cx="1885.3" cy="387.4" r="0.7"/><circle cx="1902.1" cy="415.4" r="0.5"/><circle cx="1846.4" cy="339.8" r="0.7"/><circle cx="1809.2" cy="407.3" r="0.8"/><circle cx="1891" cy="415.6" r="0.8"/><circle cx="1857.1" cy="348.9" r="0.5"/><circle cx="1875.9" cy="382.7" r="0.7"/><circle cx="1872.5" cy="368.4" r="0.5"/><circle cx="1845.1" cy="428.1" r="0.5"/><circle cx="1903.6" cy="352.9" r="0.5"/><circle cx="1871.8" cy="378.2" r="0.4"/><circle cx="1833.3" cy="342.7" r="0.7"/><circle cx="1913.6" cy="385" r="0.5"/><circle cx="1857.2" cy="331.6" r="0.4"/><circle cx="1836.9" cy="388.5" r="0.5"/><circle cx="1812.5" cy="393.8" r="0.8"/><circle cx="1887.7" cy="418.2" r="0.8"/><circle cx="1863.7" cy="345.3" r="0.5"/><circle cx="1839.5" cy="365.8" r="0.7"/><circle cx="1838.1" cy="358.3" r="0.7"/><circle cx="1827" cy="410.5" r="0.7"/><circle cx="1859.6" cy="412.9" r="0.6"/><circle cx="1809.9" cy="409.5" r="0.5"/><circle cx="1850" cy="397.9" r="0.6"/><circle cx="1844.8" cy="423.8" r="0.7"/><circle cx="1916" cy="401.3" r="0.7"/><circle cx="1875.7" cy="348" r="0.6"/><circle cx="1828.8" cy="407.5" r="0.5"/><circle cx="1849.4" cy="417.6" r="0.5"/><circle cx="1903.1" cy="359" r="0.7"/><circle cx="1889.3" cy="390.9" r="0.6"/><circle cx="1846.3" cy="352.4" r="0.7"/><circle cx="1884.6" cy="370.7" r="0.6"/><circle cx="1861.8" cy="354.8" r="0.7"/><circle cx="1853.2" cy="392.6" r="0.6"/><circle cx="1906.6" cy="409.2" r="0.7"/><circle cx="1805.5" cy="377.5" r="0.5"/><circle cx="1836.7" cy="395.9" r="0.4"/><circle cx="1865.7" cy="375.8" r="0.8"/><circle cx="1814.1" cy="370.6" r="0.4"/><circle cx="1903" cy="359.1" r="0.4"/><circle cx="1868.6" cy="407.7" r="0.6"/><circle cx="1905.4" cy="412.5" r="0.6"/><circle cx="1851.4" cy="359.4" r="0.7"/><circle cx="1814.8" cy="401.2" r="0.6"/><circle cx="1913.1" cy="384.2" r="0.7"/><circle cx="1845.9" cy="409.1" r="0.5"/><circle cx="1898.4" cy="430" r="0.5"/><circle cx="1879" cy="367.3" r="0.6"/><circle cx="1859.9" cy="420.1" r="0.7"/><circle cx="1815.8" cy="351.9" r="0.5"/><circle cx="1857.8" cy="402.2" r="0.5"/><circle cx="1903" cy="382.4" r="0.6"/><circle cx="1832.3" cy="430.5" r="0.7"/><circle cx="1866.7" cy="398.1" r="0.5"/><circle cx="1880.1" cy="342.1" r="0.5"/><circle cx="1862.9" cy="419.9" r="0.7"/><circle cx="1859.4" cy="359.2" r="0.5"/><circle cx="1864.2" cy="444.3" r="0.6"/><circle cx="1886.3" cy="377.1" r="0.7"/><circle cx="1808.7" cy="364.1" r="0.5"/><circle cx="1866.8" cy="440" r="0.8"/><circle cx="1826.2" cy="385.8" r="0.4"/><circle cx="1807.2" cy="407" r="0.5"/><circle cx="1818.3" cy="401.6" r="0.5"/><circle cx="1892.2" cy="414.2" r="0.8"/><circle cx="1881.9" cy="364.6" r="0.7"/><circle cx="1881.6" cy="348.9" r="0.5"/><circle cx="1876" cy="433.9" r="0.7"/><circle cx="1864.6" cy="409.1" r="0.4"/><circle cx="1885.5" cy="339.3" r="0.6"/><circle cx="1822.2" cy="356.2" r="0.5"/><circle cx="1821.1" cy="382.9" r="0.7"/><circle cx="1887.3" cy="433.8" r="0.5"/><circle cx="1817.5" cy="352.4" r="0.4"/><circle cx="1855.8" cy="388.1" r="0.6"/><circle cx="1803" cy="392.9" r="0.6"/><circle cx="1901.6" cy="360.9" r="0.7"/><circle cx="1849.1" cy="402.3" r="0.7"/></g>
<ellipse cx="1859.7" cy="387.7" rx="69.7" ry="70" fill="none" stroke="#f4f4f8" stroke-width="2" opacity="0.7"/>
<g fill="#3a24cc" filter="url(#fblur1)"><circle cx="1883.5" cy="408.1" r="0.6"/><circle cx="1829.5" cy="364.4" r="2.1"/><circle cx="1863.9" cy="400.9" r="1"/><circle cx="1876.6" cy="384.9" r="1.1"/><circle cx="1853.8" cy="393.1" r="1.2"/><circle cx="1850.9" cy="411.4" r="1.6"/><circle cx="1851.4" cy="373.1" r="1.4"/><circle cx="1822.7" cy="379" r="0.5"/><circle cx="1853.3" cy="420.6" r="1.2"/><circle cx="1832.3" cy="386.9" r="1.3"/><circle cx="1856" cy="345.4" r="1.7"/><circle cx="1884" cy="371.5" r="0.6"/><circle cx="1829.4" cy="420.3" r="1.7"/><circle cx="1851.2" cy="379.7" r="0.6"/><circle cx="1846.7" cy="368.2" r="0.6"/><circle cx="1875.6" cy="384.7" r="2"/><circle cx="1819.5" cy="349.1" r="1.7"/><circle cx="1864.6" cy="403.1" r="1.9"/><circle cx="1835.5" cy="398.4" r="1.6"/><circle cx="1831.3" cy="366.2" r="1.1"/><circle cx="1854" cy="423.1" r="0.6"/><circle cx="1853.2" cy="348.3" r="0.6"/><circle cx="1909.1" cy="388.4" r="0.6"/><circle cx="1841.6" cy="383.9" r="0.6"/><circle cx="1859.3" cy="396.4" r="1.8"/><circle cx="1864.5" cy="348.8" r="0.6"/><circle cx="1855.2" cy="396.8" r="1.8"/><circle cx="1913.4" cy="379.2" r="1.8"/><circle cx="1839.9" cy="370.6" r="0.6"/><circle cx="1890" cy="394" r="2.1"/><circle cx="1882.7" cy="384.9" r="1.1"/><circle cx="1873.1" cy="375.3" r="1.6"/><circle cx="1840.4" cy="373.7" r="0.9"/><circle cx="1866.5" cy="398.3" r="0.8"/><circle cx="1900.8" cy="384.7" r="0.5"/><circle cx="1860.2" cy="375.3" r="1.2"/><circle cx="1902.2" cy="364.4" r="1.9"/><circle cx="1891.2" cy="386.3" r="0.5"/><circle cx="1858.9" cy="421" r="1.3"/><circle cx="1871.3" cy="380.5" r="1.9"/><circle cx="1833.3" cy="373.6" r="0.6"/><circle cx="1843.2" cy="408.9" r="1.6"/><circle cx="1846.1" cy="358.7" r="1.5"/><circle cx="1847.6" cy="403.9" r="2.1"/><circle cx="1846" cy="362.5" r="2.1"/><circle cx="1883.3" cy="360.9" r="2.1"/><circle cx="1821.8" cy="421.7" r="1.2"/><circle cx="1839.5" cy="397.9" r="0.5"/><circle cx="1905.3" cy="348.3" r="0.9"/><circle cx="1870.9" cy="383.8" r="1"/><circle cx="1891.2" cy="386.3" r="0.6"/><circle cx="1856.3" cy="383.8" r="1.5"/><circle cx="1832.3" cy="370.9" r="1.4"/><circle cx="1897.6" cy="414.2" r="1.6"/><circle cx="1872.4" cy="377.6" r="0.7"/><circle cx="1851.1" cy="337.8" r="1.2"/><circle cx="1860.7" cy="411.9" r="0.7"/><circle cx="1803.6" cy="393.7" r="1.4"/><circle cx="1874.2" cy="435.4" r="1.9"/><circle cx="1858.9" cy="388.2" r="1.4"/><circle cx="1854.5" cy="398.2" r="2"/><circle cx="1848.9" cy="395.6" r="0.8"/><circle cx="1880.4" cy="387.1" r="1.1"/><circle cx="1859.6" cy="396.9" r="0.6"/><circle cx="1882.6" cy="396.7" r="1"/><circle cx="1847.6" cy="347.1" r="1.9"/><circle cx="1877.9" cy="409.8" r="0.6"/><circle cx="1853.4" cy="408.9" r="0.9"/><circle cx="1872.7" cy="368.1" r="0.6"/><circle cx="1845.7" cy="377.5" r="2"/><circle cx="1869.8" cy="395.9" r="0.5"/><circle cx="1848.4" cy="425.2" r="0.5"/><circle cx="1822.8" cy="357.6" r="0.7"/><circle cx="1858.4" cy="351.8" r="2.1"/><circle cx="1878.5" cy="362.4" r="1"/><circle cx="1852" cy="396.1" r="0.5"/><circle cx="1848.5" cy="373.3" r="0.6"/><circle cx="1847.3" cy="389.4" r="1.4"/><circle cx="1880.3" cy="381.2" r="0.5"/><circle cx="1869.3" cy="404.5" r="1.9"/><circle cx="1888.4" cy="377.4" r="0.9"/><circle cx="1894.9" cy="411.8" r="0.5"/><circle cx="1857.4" cy="424" r="1.5"/><circle cx="1840.3" cy="359.5" r="0.7"/><circle cx="1861.2" cy="382.8" r="1.3"/><circle cx="1898.6" cy="392.8" r="1.3"/><circle cx="1840.2" cy="378.7" r="1.7"/><circle cx="1872.3" cy="390.5" r="0.5"/><circle cx="1854" cy="381.8" r="0.5"/><circle cx="1871.4" cy="372.2" r="0.9"/><circle cx="1870.1" cy="368.9" r="1.8"/><circle cx="1870.3" cy="387" r="0.7"/><circle cx="1877.1" cy="388.9" r="1.3"/><circle cx="1899.1" cy="383" r="1.5"/><circle cx="1890.7" cy="428.5" r="1"/><circle cx="1862.1" cy="373.2" r="2.1"/><circle cx="1845.7" cy="399.9" r="1.9"/><circle cx="1848.3" cy="368.1" r="1"/><circle cx="1858.1" cy="365.8" r="1.2"/><circle cx="1837.2" cy="388.1" r="0.9"/><circle cx="1857.7" cy="427.4" r="1.4"/><circle cx="1865.9" cy="399.7" r="0.9"/><circle cx="1837.8" cy="372.8" r="1.4"/><circle cx="1854.1" cy="369.9" r="0.5"/><circle cx="1844.6" cy="364.3" r="0.8"/><circle cx="1869.1" cy="379.5" r="0.6"/><circle cx="1844.5" cy="371.7" r="1.4"/><circle cx="1881.3" cy="401.7" r="1.3"/><circle cx="1848.3" cy="392.8" r="0.5"/><circle cx="1852.6" cy="404.9" r="1.9"/></g>
</g>
<ellipse cx="1859.7" cy="387.7" rx="72.1" ry="72.4" fill="none" stroke="#c4c2cc" stroke-width="1.2"/>
<text x="1635.6" y="14" font-size="16.6" font-weight="bold" text-anchor="middle">SNB19</text>
<line x1="1403.5" y1="25" x2="1873" y2="25" stroke="#222" stroke-width="1.4"/>
<text x="1425.2" y="53.5" font-size="16.3" font-weight="bold" text-anchor="middle">NC</text>
<text x="1567.3" y="53.5" font-size="16.3" font-weight="bold" text-anchor="middle">miR-195-5p</text>
<text x="1721" y="53.5" font-size="16.3" font-weight="bold" text-anchor="middle">miR-195-5p+vector</text>
<text x="1867" y="53.5" font-size="16.3" font-weight="bold" text-anchor="middle">miR-195-5p+HSL</text>
<text x="1634.7" y="265.8" font-size="16.4" font-weight="bold" text-anchor="middle">LN229</text>
<line x1="1403.5" y1="277" x2="1872.5" y2="277" stroke="#333" stroke-width="1.4"/>
<text x="1420.4" y="304.6" font-size="16.3" font-weight="bold" text-anchor="middle">NC</text>
<text x="1562" y="304.6" font-size="16.3" font-weight="bold" text-anchor="middle">miR-195-5p</text>
<text x="1716.5" y="304.6" font-size="16.3" font-weight="bold" text-anchor="middle">miR-195-5p+vector</text>
<text x="1862.4" y="304.6" font-size="16.3" font-weight="bold" text-anchor="middle">miR-195-5p+HSL</text>
<rect x="769" y="564" width="130.8" height="98" fill="#40646b" filter="url(#fE)"/>
<rect x="793.2" y="564" width="83.2" height="98" fill="#2f4a50"/>
<line x1="793.2" y1="564" x2="793.2" y2="662" stroke="#000" stroke-width="1.9"/>
<line x1="876.4" y1="564" x2="876.4" y2="662" stroke="#000" stroke-width="1.9"/>
<line x1="863.8" y1="649" x2="892.3" y2="649" stroke="#c8cccc" stroke-width="1.6"/>
<rect x="769" y="666.3" width="130.8" height="98.1" fill="#4a6f76" filter="url(#fE2)"/>
<rect x="818.3" y="666.3" width="33.3" height="98.1" fill="#35525a"/>
<line x1="818.3" y1="666.3" x2="818.3" y2="764.4" stroke="#000" stroke-width="1.9"/>
<line x1="851.6" y1="666.3" x2="851.6" y2="764.4" stroke="#000" stroke-width="1.9"/>
<line x1="863.8" y1="751.4" x2="892.3" y2="751.4" stroke="#c8cccc" stroke-width="1.6"/>
<rect x="903.5" y="564" width="131.5" height="98" fill="#40646b" filter="url(#fE)"/>
<rect x="935.5" y="564" width="71.5" height="98" fill="#2f4a50"/>
<line x1="935.5" y1="564" x2="935.5" y2="662" stroke="#000" stroke-width="1.9"/>
<line x1="1007" y1="564" x2="1007" y2="662" stroke="#000" stroke-width="1.9"/>
<line x1="999" y1="649" x2="1027.5" y2="649" stroke="#c8cccc" stroke-width="1.6"/>
<rect x="903.5" y="666.3" width="131.5" height="98.1" fill="#4a6f76" filter="url(#fE2)"/>
<rect x="946" y="666.3" width="45.4" height="98.1" fill="#35525a"/>
<line x1="946" y1="666.3" x2="946" y2="764.4" stroke="#000" stroke-width="1.9"/>
<line x1="991.4" y1="666.3" x2="991.4" y2="764.4" stroke="#000" stroke-width="1.9"/>
<line x1="999" y1="751.4" x2="1027.5" y2="751.4" stroke="#c8cccc" stroke-width="1.6"/>
<rect x="1038.8" y="564" width="131.2" height="98" fill="#40646b" filter="url(#fE)"/>
<rect x="1069.2" y="564" width="74.3" height="98" fill="#2f4a50"/>
<line x1="1069.2" y1="564" x2="1069.2" y2="662" stroke="#000" stroke-width="1.9"/>
<line x1="1143.5" y1="564" x2="1143.5" y2="662" stroke="#000" stroke-width="1.9"/>
<line x1="1134" y1="649" x2="1162.5" y2="649" stroke="#c8cccc" stroke-width="1.6"/>
<rect x="1038.8" y="666.3" width="131.2" height="98.1" fill="#4a6f76" filter="url(#fE2)"/>
<rect x="1081.6" y="666.3" width="47.4" height="98.1" fill="#35525a"/>
<line x1="1081.6" y1="666.3" x2="1081.6" y2="764.4" stroke="#000" stroke-width="1.9"/>
<line x1="1129" y1="666.3" x2="1129" y2="764.4" stroke="#000" stroke-width="1.9"/>
<line x1="1134" y1="751.4" x2="1162.5" y2="751.4" stroke="#c8cccc" stroke-width="1.6"/>
<rect x="1174.3" y="564" width="131.7" height="98" fill="#40646b" filter="url(#fE)"/>
<rect x="1201.6" y="564" width="77.1" height="98" fill="#2f4a50"/>
<line x1="1201.6" y1="564" x2="1201.6" y2="662" stroke="#000" stroke-width="1.9"/>
<line x1="1278.7" y1="564" x2="1278.7" y2="662" stroke="#000" stroke-width="1.9"/>
<line x1="1270" y1="649" x2="1298.5" y2="649" stroke="#c8cccc" stroke-width="1.6"/>
<rect x="1174.3" y="666.3" width="131.7" height="98.1" fill="#4a6f76" filter="url(#fE2)"/>
<rect x="1227.4" y="666.3" width="13.1" height="98.1" fill="#35525a"/>
<line x1="1227.4" y1="666.3" x2="1227.4" y2="764.4" stroke="#000" stroke-width="1.9"/>
<line x1="1240.5" y1="666.3" x2="1240.5" y2="764.4" stroke="#000" stroke-width="1.9"/>
<line x1="1270" y1="751.4" x2="1298.5" y2="751.4" stroke="#c8cccc" stroke-width="1.6"/>
<text x="771.5" y="584" font-size="11.5" font-weight="bold">0h</text>
<text x="771.5" y="686" font-size="12" font-weight="bold">24h</text>
<text x="1042" y="528" font-size="11.4" font-weight="bold" text-anchor="middle">SNB19</text>
<line x1="827.5" y1="539.8" x2="1279.8" y2="539.8" stroke="#404040" stroke-width="1.6"/>
<text x="838" y="556.6" font-size="11" font-weight="bold" text-anchor="middle">NC</text>
<text x="973" y="556.6" font-size="11" font-weight="bold" text-anchor="middle">miR-195-5p</text>
<text x="1104" y="556.6" font-size="11" font-weight="bold" text-anchor="middle">miR-195-5p+vector</text>
<text x="1240" y="556.6" font-size="11" font-weight="bold" text-anchor="middle">miR-195-5p+HSL</text>
<rect x="758.9" y="820.2" width="135.5" height="101.5" fill="#40646b" filter="url(#fE)"/>
<rect x="786.9" y="820.2" width="87.4" height="101.5" fill="#2f4a50"/>
<line x1="786.9" y1="820.2" x2="786.9" y2="921.7" stroke="#000" stroke-width="1.9"/>
<line x1="874.3" y1="820.2" x2="874.3" y2="921.7" stroke="#000" stroke-width="1.9"/>
<line x1="858.4" y1="908.7" x2="886.9" y2="908.7" stroke="#c8cccc" stroke-width="1.6"/>
<rect x="758.9" y="925" width="135.5" height="101" fill="#4a6f76" filter="url(#fE2)"/>
<rect x="812.3" y="925" width="27.7" height="101" fill="#35525a"/>
<line x1="812.3" y1="925" x2="812.3" y2="1026" stroke="#000" stroke-width="1.9"/>
<line x1="840" y1="925" x2="840" y2="1026" stroke="#000" stroke-width="1.9"/>
<line x1="858.4" y1="1013" x2="886.9" y2="1013" stroke="#c8cccc" stroke-width="1.6"/>
<rect x="899" y="820.2" width="135.5" height="101.5" fill="#40646b" filter="url(#fE)"/>
<rect x="935.5" y="820.2" width="69" height="101.5" fill="#2f4a50"/>
<line x1="935.5" y1="820.2" x2="935.5" y2="921.7" stroke="#000" stroke-width="1.9"/>
<line x1="1004.5" y1="820.2" x2="1004.5" y2="921.7" stroke="#000" stroke-width="1.9"/>
<line x1="998.5" y1="908.7" x2="1027" y2="908.7" stroke="#c8cccc" stroke-width="1.6"/>
<rect x="899" y="925" width="135.5" height="101" fill="#4a6f76" filter="url(#fE2)"/>
<rect x="940.8" y="925" width="49.5" height="101" fill="#35525a"/>
<line x1="940.8" y1="925" x2="940.8" y2="1026" stroke="#000" stroke-width="1.9"/>
<line x1="990.3" y1="925" x2="990.3" y2="1026" stroke="#000" stroke-width="1.9"/>
<line x1="998.5" y1="1013" x2="1027" y2="1013" stroke="#c8cccc" stroke-width="1.6"/>
<rect x="1039" y="820.2" width="135.3" height="101.5" fill="#40646b" filter="url(#fE)"/>
<rect x="1072.4" y="820.2" width="77.2" height="101.5" fill="#2f4a50"/>
<line x1="1072.4" y1="820.2" x2="1072.4" y2="921.7" stroke="#000" stroke-width="1.9"/>
<line x1="1149.6" y1="820.2" x2="1149.6" y2="921.7" stroke="#000" stroke-width="1.9"/>
<line x1="1138.3" y1="908.7" x2="1166.8" y2="908.7" stroke="#c8cccc" stroke-width="1.6"/>
<rect x="1039" y="925" width="135.3" height="101" fill="#4a6f76" filter="url(#fE2)"/>
<rect x="1085.2" y="925" width="52" height="101" fill="#35525a"/>
<line x1="1085.2" y1="925" x2="1085.2" y2="1026" stroke="#000" stroke-width="1.9"/>
<line x1="1137.2" y1="925" x2="1137.2" y2="1026" stroke="#000" stroke-width="1.9"/>
<line x1="1138.3" y1="1013" x2="1166.8" y2="1013" stroke="#c8cccc" stroke-width="1.6"/>
<rect x="1178" y="820.2" width="135.4" height="101.5" fill="#40646b" filter="url(#fE)"/>
<rect x="1204" y="820.2" width="82.9" height="101.5" fill="#2f4a50"/>
<line x1="1204" y1="820.2" x2="1204" y2="921.7" stroke="#000" stroke-width="1.9"/>
<line x1="1286.9" y1="820.2" x2="1286.9" y2="921.7" stroke="#000" stroke-width="1.9"/>
<line x1="1277.4" y1="908.7" x2="1305.9" y2="908.7" stroke="#c8cccc" stroke-width="1.6"/>
<rect x="1178" y="925" width="135.4" height="101" fill="#4a6f76" filter="url(#fE2)"/>
<rect x="1228.5" y="925" width="36.1" height="101" fill="#35525a"/>
<line x1="1228.5" y1="925" x2="1228.5" y2="1026" stroke="#000" stroke-width="1.9"/>
<line x1="1264.6" y1="925" x2="1264.6" y2="1026" stroke="#000" stroke-width="1.9"/>
<line x1="1277.4" y1="1013" x2="1305.9" y2="1013" stroke="#c8cccc" stroke-width="1.6"/>
<text x="764" y="838" font-size="11.5" font-weight="bold">0h</text>
<text x="764" y="942.5" font-size="12" font-weight="bold">36h</text>
<text x="1027.3" y="786.5" font-size="11.6" font-weight="bold" text-anchor="middle">LN229</text>
<line x1="802.8" y1="794.5" x2="1281" y2="794.5" stroke="#141414" stroke-width="1.5"/>
<text x="829.3" y="811.3" font-size="11.4" font-weight="bold" text-anchor="middle">NC</text>
<text x="967.7" y="811.3" font-size="11.4" font-weight="bold" text-anchor="middle">miR-195-5p</text>
<text x="1111.2" y="811.3" font-size="11.4" font-weight="bold" text-anchor="middle">miR-195-5p+vector</text>
<text x="1242" y="811.3" font-size="11.4" font-weight="bold" text-anchor="middle">miR-195-5p+HSL</text>
<rect x="96.3" y="1198.4" width="147.7" height="110.8" fill="#eceff0" filter="url(#fG1)"/>
<rect x="96.3" y="1314.7" width="147.7" height="110.3" fill="#9a86c2" filter="url(#fG2)"/>
<rect x="249.9" y="1198.4" width="147.9" height="110.8" fill="#e9f0e2" filter="url(#fG3)"/>
<rect x="249.9" y="1314.7" width="147.9" height="110.3" fill="#e4eeee" filter="url(#fG4)"/>
<rect x="402.9" y="1198.4" width="147.7" height="110.8" fill="#eef2e8" filter="url(#fG5)"/>
<rect x="402.9" y="1314.7" width="147.7" height="110.3" fill="#e0eeea" filter="url(#fG6)"/>
<rect x="556.5" y="1198.4" width="148.1" height="110.8" fill="#eceef4" filter="url(#fG7)"/>
<rect x="556.5" y="1314.7" width="148.1" height="110.3" fill="#eceef6" filter="url(#fG8)"/>
<rect x="101.2" y="1505.6" width="146.8" height="110" fill="#f5d6c8" filter="url(#fG9)"/>
<rect x="101.2" y="1621.1" width="146.8" height="109.9" fill="#f0d4da" filter="url(#fG10)"/>
<rect x="252.2" y="1505.6" width="146.6" height="110" fill="#fcefdf" filter="url(#fG11)"/>
<rect x="252.2" y="1621.1" width="146.6" height="109.9" fill="#f6d4c4" filter="url(#fG12)"/>
<rect x="403.2" y="1505.6" width="147" height="110" fill="#f6d9cc" filter="url(#fG13)"/>
<rect x="403.2" y="1621.1" width="147" height="109.9" fill="#fbebe6" filter="url(#fG14)"/>
<rect x="554" y="1505.6" width="146.9" height="110" fill="#f3dad6" filter="url(#fG15)"/>
<rect x="554" y="1621.1" width="146.9" height="109.9" fill="#efd4da" filter="url(#fG16)"/>
<text x="407" y="1157.5" font-size="12.8" font-weight="bold" text-anchor="middle">SNB19</text>
<line x1="167.3" y1="1170.4" x2="675" y2="1170.4" stroke="#111" stroke-width="1.4"/>
<text x="179" y="1189.5" font-size="12.3" font-weight="bold" text-anchor="middle">NC</text>
<text x="330" y="1189.5" font-size="12.3" font-weight="bold" text-anchor="middle">miR-195-5p</text>
<text x="477" y="1189.5" font-size="12.3" font-weight="bold" text-anchor="middle">miR-195-5p+vector</text>
<text x="631" y="1189.5" font-size="12.3" font-weight="bold" text-anchor="middle">miR-195-5p+HSL</text>
<text x="84" y="1245.6" font-size="12.5" font-weight="bold" text-anchor="middle" transform="rotate(-90 84 1245.6)">Invasion</text>
<text x="84" y="1363.8" font-size="12.4" font-weight="bold" text-anchor="middle" transform="rotate(-90 84 1363.8)">Migration</text>
<text x="386" y="1464.5" font-size="12.4" font-weight="bold" text-anchor="middle">LN229</text>
<line x1="143.3" y1="1473.8" x2="660.7" y2="1473.8" stroke="#333" stroke-width="1.5"/>
<text x="172" y="1491.5" font-size="12.2" font-weight="bold" text-anchor="middle">NC</text>
<text x="322" y="1491.5" font-size="12.2" font-weight="bold" text-anchor="middle">miR-195-5p</text>
<text x="477" y="1491.5" font-size="12.2" font-weight="bold" text-anchor="middle">miR-195-5p+vector</text>
<text x="619" y="1491.5" font-size="12.2" font-weight="bold" text-anchor="middle">miR-195-5p+HSL</text>
<text x="86.5" y="1558.5" font-size="12.5" font-weight="bold" text-anchor="middle" transform="rotate(-90 86.5 1558.5)">Invasion</text>
<text x="86.5" y="1675.2" font-size="12.4" font-weight="bold" text-anchor="middle" transform="rotate(-90 86.5 1675.2)">Migration</text>
<g clip-path="url(#bc00)">
<rect x="1474.4" y="1113.6" width="223.4" height="52.7" fill="#8c8c8c" filter="url(#grHi)"/>
<rect x="1494.5" y="1143.6" width="34" height="10" rx="4" fill="#2a2a2a" filter="url(#bb2)"/>
<rect x="1545" y="1141.6" width="34" height="10" rx="4" fill="#3c3c3c" filter="url(#bb2)"/>
<rect x="1595.6" y="1141.6" width="34" height="10" rx="4" fill="#444" filter="url(#bb2)"/>
<rect x="1647" y="1143.1" width="36" height="11" rx="4" fill="#000" filter="url(#bb1)"/>
</g>
<rect x="1475.4" y="1114.6" width="221.4" height="50.7" fill="none" stroke="#000" stroke-width="2.2"/>
<g clip-path="url(#bc10)">
<rect x="1706.9" y="1113.6" width="222.8" height="52.7" fill="#9c9c9c" filter="url(#grLo)"/>
<rect x="1723" y="1137.6" width="34" height="8" rx="4" fill="#101010" filter="url(#bb1)"/>
<rect x="1772" y="1139.1" width="32" height="7" rx="3.5" fill="#3a3a3a" filter="url(#bb1)"/>
<rect x="1819" y="1137.6" width="32" height="8" rx="4" fill="#222" filter="url(#bb1)"/>
<rect x="1866" y="1137.1" width="36" height="9" rx="4" fill="#000" filter="url(#bb1)"/>
</g>
<rect x="1707.9" y="1114.6" width="220.8" height="50.7" fill="none" stroke="#000" stroke-width="2.2"/>
<g clip-path="url(#bc01)">
<rect x="1474.4" y="1178.3" width="223.4" height="46" fill="#dadada" filter="url(#grLo)"/>
<rect x="1493.5" y="1198.8" width="36" height="7" rx="3.5" fill="#151515" filter="url(#bb1)"/>
<rect x="1545" y="1200.3" width="34" height="6" rx="3" fill="#7a7a7a" filter="url(#bb1)"/>
<rect x="1595.6" y="1199.3" width="34" height="6" rx="3" fill="#858585" filter="url(#bb1)"/>
<rect x="1647" y="1196.8" width="36" height="7" rx="3.5" fill="#202020" filter="url(#bb1)"/>
</g>
<rect x="1475.4" y="1179.3" width="221.4" height="44" fill="none" stroke="#000" stroke-width="2.2"/>
<g clip-path="url(#bc11)">
<rect x="1706.9" y="1178.3" width="222.8" height="46" fill="#d2d2d2" filter="url(#grLo)"/>
<rect x="1718" y="1192.8" width="36" height="7" rx="3.5" fill="#0a0a0a" filter="url(#bb1)"/>
<rect x="1768" y="1193.8" width="34" height="7" rx="3.5" fill="#404040" filter="url(#bb1)"/>
<rect x="1818" y="1193.8" width="34" height="7" rx="3.5" fill="#4a4a4a" filter="url(#bb1)"/>
<rect x="1869" y="1190.8" width="36" height="7" rx="3.5" fill="#000" filter="url(#bb1)"/>
</g>
<rect x="1707.9" y="1179.3" width="220.8" height="44" fill="none" stroke="#000" stroke-width="2.2"/>
<g clip-path="url(#bc02)">
<rect x="1474.4" y="1236.6" width="223.4" height="46.2" fill="#dadada" filter="url(#grLo)"/>
<rect x="1493.5" y="1257.1" width="36" height="9" rx="4" fill="#3c3c3c" filter="url(#bb2)"/>
<rect x="1545" y="1258.1" width="34" height="7" rx="3.5" fill="#c4c4c4" filter="url(#bb2)"/>
<rect x="1595.6" y="1258.1" width="34" height="7" rx="3.5" fill="#c6c6c6" filter="url(#bb2)"/>
<rect x="1645" y="1250.6" width="40" height="22" rx="4" fill="#000" filter="url(#bb1)"/>
<rect x="1647" y="1238.6" width="36" height="12" rx="4" fill="#888" filter="url(#bb3)"/>
</g>
<rect x="1475.4" y="1237.6" width="221.4" height="44.2" fill="none" stroke="#000" stroke-width="2.2"/>
<g clip-path="url(#bc12)">
<rect x="1706.9" y="1236.6" width="222.8" height="46.2" fill="#c2c2c2" filter="url(#grLo)"/>
<rect x="1720" y="1256.6" width="34" height="8" rx="4" fill="#6a6a6a" filter="url(#bb2)"/>
<rect x="1771" y="1258.6" width="34" height="6" rx="3" fill="#b4b4b4" filter="url(#bb2)"/>
<rect x="1818" y="1258.6" width="34" height="6" rx="3" fill="#b6b6b6" filter="url(#bb2)"/>
<rect x="1866" y="1248.6" width="40" height="24" rx="4" fill="#000" filter="url(#bb1)"/>
<rect x="1868" y="1235.6" width="36" height="10" rx="4" fill="#555" filter="url(#bb2)"/>
</g>
<rect x="1707.9" y="1237.6" width="220.8" height="44.2" fill="none" stroke="#000" stroke-width="2.2"/>
<g clip-path="url(#bc03)">
<rect x="1474.4" y="1295.1" width="223.4" height="53.1" fill="#b4b4b4" filter="url(#grHi)"/>
<rect x="1548" y="1308.1" width="38" height="6" rx="3" fill="#4a4a4a" filter="url(#bb1)"/>
<rect x="1591.6" y="1308.1" width="38" height="6" rx="3" fill="#3e3e3e" filter="url(#bb1)"/>
</g>
<rect x="1475.4" y="1296.1" width="221.4" height="51.1" fill="none" stroke="#000" stroke-width="2.2"/>
<g clip-path="url(#bc13)">
<rect x="1706.9" y="1295.1" width="222.8" height="53.1" fill="#a6a6a6" filter="url(#grHi)"/>
<rect x="1746" y="1309.6" width="10" height="5" rx="2.5" fill="#000" filter="url(#bb1)"/>
<rect x="1772" y="1307.6" width="26" height="7" rx="3.5" fill="#000" filter="url(#bb1)"/>
<rect x="1809" y="1308.6" width="38" height="7" rx="3.5" fill="#000" filter="url(#bb1)"/>
<rect x="1860" y="1309.6" width="38" height="5" rx="2.5" fill="#707070" filter="url(#bb2)"/>
</g>
<rect x="1707.9" y="1296.1" width="220.8" height="51.1" fill="none" stroke="#000" stroke-width="2.2"/>
<g clip-path="url(#bc04)">
<rect x="1474.4" y="1360.8" width="223.4" height="55.9" fill="#aaaaaa" filter="url(#grHi)"/>
<rect x="1492.5" y="1386.8" width="38" height="12" rx="4" fill="#080808" filter="url(#bb2)"/>
<rect x="1544" y="1387.8" width="36" height="10" rx="4" fill="#686868" filter="url(#bb2)"/>
<rect x="1594.6" y="1387.8" width="36" height="10" rx="4" fill="#6a6a6a" filter="url(#bb2)"/>
<rect x="1646" y="1385.8" width="38" height="12" rx="4" fill="#080808" filter="url(#bb2)"/>
</g>
<rect x="1475.4" y="1361.8" width="221.4" height="53.9" fill="none" stroke="#000" stroke-width="2.2"/>
<g clip-path="url(#bc14)">
<rect x="1706.9" y="1360.8" width="222.8" height="55.9" fill="#c4c4c4" filter="url(#grLo)"/>
<rect x="1722" y="1385.8" width="34" height="10" rx="4" fill="#0a0a0a" filter="url(#bb1)"/>
<rect x="1773" y="1387.3" width="34" height="9" rx="4" fill="#888" filter="url(#bb2)"/>
<rect x="1822" y="1387.3" width="34" height="9" rx="4" fill="#8c8c8c" filter="url(#bb2)"/>
<rect x="1874" y="1384.8" width="36" height="10" rx="4" fill="#4a4a4a" filter="url(#bb2)"/>
</g>
<rect x="1707.9" y="1361.8" width="220.8" height="53.9" fill="none" stroke="#000" stroke-width="2.2"/>
<g clip-path="url(#bc05)">
<rect x="1474.4" y="1429" width="223.4" height="59.7" fill="#cdcdcd" filter="url(#grLo)"/>
<rect x="1493.5" y="1461" width="36" height="8" rx="4" fill="#3a3a3a" filter="url(#bb2)"/>
<rect x="1493.5" y="1470.5" width="36" height="7" rx="3.5" fill="#303030" filter="url(#bb2)"/>
<rect x="1545" y="1462" width="34" height="10" rx="4" fill="#b0b0b0" filter="url(#bb3)"/>
<rect x="1595.6" y="1460" width="34" height="10" rx="4" fill="#acacac" filter="url(#bb3)"/>
<rect x="1647" y="1435" width="36" height="8" rx="4" fill="#404040" filter="url(#bb2)"/>
<rect x="1646" y="1452" width="38" height="18" rx="4" fill="#101010" filter="url(#bb2)"/>
</g>
<rect x="1475.4" y="1430" width="221.4" height="57.7" fill="none" stroke="#000" stroke-width="2.2"/>
<g clip-path="url(#bc15)">
<rect x="1706.9" y="1429" width="222.8" height="59.7" fill="#c4c4c4" filter="url(#grLo)"/>
<rect x="1718" y="1459" width="36" height="10" rx="4" fill="#1a1a1a" filter="url(#bb2)"/>
<rect x="1771" y="1460.5" width="34" height="9" rx="4" fill="#808080" filter="url(#bb2)"/>
<rect x="1821" y="1460.5" width="34" height="9" rx="4" fill="#888" filter="url(#bb2)"/>
<rect x="1873" y="1448" width="38" height="22" rx="4" fill="#0a0a0a" filter="url(#bb2)"/>
<rect x="1877" y="1434" width="30" height="10" rx="4" fill="#777" filter="url(#bb3)"/>
</g>
<rect x="1707.9" y="1430" width="220.8" height="57.7" fill="none" stroke="#000" stroke-width="2.2"/>
<g clip-path="url(#bc06)">
<rect x="1474.4" y="1500.6" width="223.4" height="61" fill="#c8c8c8" filter="url(#grLo)"/>
<rect x="1492.5" y="1519.6" width="42" height="22" rx="4" fill="#0c0c0c" filter="url(#bb2)"/>
<rect x="1546" y="1522.6" width="38" height="16" rx="4" fill="#888" filter="url(#bb3)"/>
<rect x="1597.6" y="1522.6" width="36" height="16" rx="4" fill="#8c8c8c" filter="url(#bb3)"/>
<rect x="1646" y="1514.6" width="38" height="24" rx="4" fill="#3a3a3a" filter="url(#bb3)"/>
</g>
<rect x="1475.4" y="1501.6" width="221.4" height="59" fill="none" stroke="#000" stroke-width="2.2"/>
<g clip-path="url(#bc16)">
<rect x="1706.9" y="1500.6" width="222.8" height="61" fill="#c4c4c4" filter="url(#grLo)"/>
<rect x="1718" y="1526.6" width="36" height="16" rx="4" fill="#333" filter="url(#bb3)"/>
<rect x="1771" y="1527.6" width="34" height="14" rx="4" fill="#888" filter="url(#bb3)"/>
<rect x="1823" y="1527.6" width="34" height="14" rx="4" fill="#8e8e8e" filter="url(#bb3)"/>
<rect x="1876" y="1519.6" width="36" height="22" rx="4" fill="#0a0a0a" filter="url(#bb2)"/>
</g>
<rect x="1707.9" y="1501.6" width="220.8" height="59" fill="none" stroke="#000" stroke-width="2.2"/>
<g clip-path="url(#bc07)">
<rect x="1474.4" y="1574.2" width="223.4" height="60.5" fill="#dcdcdc" filter="url(#grLo)"/>
<rect x="1493.5" y="1604.2" width="36" height="8" rx="4" fill="#000" filter="url(#bb1)"/>
<rect x="1543" y="1604.2" width="38" height="8" rx="4" fill="#050505" filter="url(#bb1)"/>
<rect x="1594.6" y="1604.2" width="36" height="8" rx="4" fill="#0a0a0a" filter="url(#bb1)"/>
<rect x="1646" y="1605.2" width="38" height="8" rx="4" fill="#000" filter="url(#bb1)"/>
</g>
<rect x="1475.4" y="1575.2" width="221.4" height="58.5" fill="none" stroke="#000" stroke-width="2.2"/>
<g clip-path="url(#bc17)">
<rect x="1706.9" y="1574.2" width="222.8" height="60.5" fill="#f6f6f6" filter="url(#grLo)"/>
<rect x="1719" y="1606.7" width="38" height="9" rx="4" fill="#000" filter="url(#bb1)"/>
<rect x="1771" y="1607.2" width="40" height="10" rx="4" fill="#000" filter="url(#bb1)"/>
<rect x="1820" y="1607.2" width="40" height="10" rx="4" fill="#000" filter="url(#bb1)"/>
<rect x="1872" y="1606.7" width="36" height="9" rx="4" fill="#000" filter="url(#bb1)"/>
</g>
<rect x="1707.9" y="1575.2" width="220.8" height="58.5" fill="none" stroke="#000" stroke-width="2.2"/>
<text x="1589" y="1089.5" font-size="21" font-weight="bold" text-anchor="middle">SNB19</text>
<text x="1807" y="1089.5" font-size="21" font-weight="bold" text-anchor="middle">LN229</text>
<text x="1399" y="1146.8" font-size="21" font-weight="bold" text-anchor="middle">N-cadherin</text>
<text x="1400" y="1211.4" font-size="21" font-weight="bold" text-anchor="middle">β-catenin</text>
<text x="1402.6" y="1273" font-size="21" font-weight="bold" text-anchor="middle">p-HSL</text>
<text x="1401.2" y="1333.3" font-size="21" font-weight="bold" text-anchor="middle">Occludin</text>
<text x="1403.6" y="1399.7" font-size="21" font-weight="bold" text-anchor="middle">Slug</text>
<text x="1399.5" y="1469" font-size="21" font-weight="bold" text-anchor="middle">P-4E-BP1</text>
<text x="1401.3" y="1541" font-size="21" font-weight="bold" text-anchor="middle">4E-BP1</text>
<text x="1401.3" y="1608" font-size="21" font-weight="bold" text-anchor="middle">β-actin</text>
<text x="1517.5" y="1671" font-size="21" font-weight="bold" text-anchor="end" transform="rotate(-45 1517.5 1671)">NC</text>
<text x="1570.5" y="1671" font-size="21" font-weight="bold" text-anchor="end" transform="rotate(-45 1570.5 1671)">miR-195-5p</text>
<text x="1620.5" y="1671" font-size="21" font-weight="bold" text-anchor="end" transform="rotate(-45 1620.5 1671)">miR-195-5p+vector</text>
<text x="1678.5" y="1671" font-size="21" font-weight="bold" text-anchor="end" transform="rotate(-45 1678.5 1671)">miR-195-5p+HSL</text>
<text x="1757.5" y="1667" font-size="21" font-weight="bold" text-anchor="end" transform="rotate(-45 1757.5 1667)">NC</text>
<text x="1810.5" y="1667" font-size="21" font-weight="bold" text-anchor="end" transform="rotate(-45 1810.5 1667)">miR-195-5p</text>
<text x="1861.5" y="1667" font-size="21" font-weight="bold" text-anchor="end" transform="rotate(-45 1861.5 1667)">miR-195-5p+vector</text>
<text x="1918.5" y="1667" font-size="21" font-weight="bold" text-anchor="end" transform="rotate(-45 1918.5 1667)">miR-195-5p+HSL</text>
</svg>
</body></html>
